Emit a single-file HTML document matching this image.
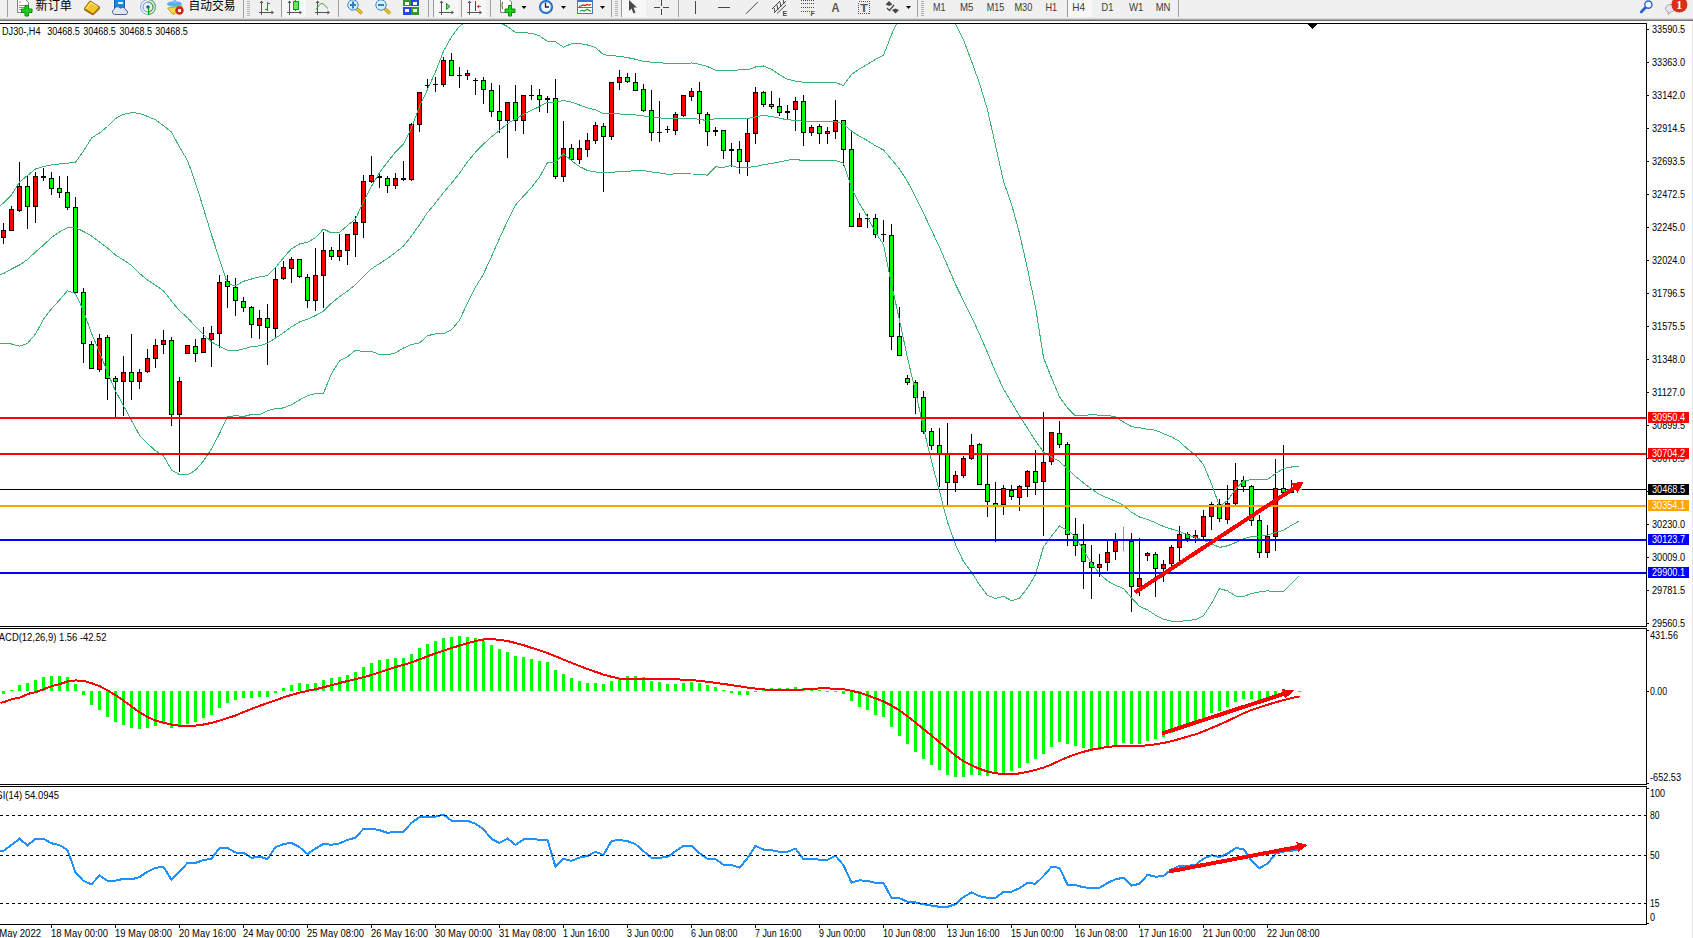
<!DOCTYPE html>
<html><head><meta charset="utf-8"><title>DJ30-,H4</title>
<style>html,body{margin:0;padding:0;background:#fff;overflow:hidden}svg{display:block}</style>
</head><body>
<svg width="1693" height="938" viewBox="0 0 1693 938" shape-rendering="crispEdges">
<defs>
<clipPath id="cm"><rect x="0" y="24" width="1646" height="602"/></clipPath>
<clipPath id="cmacd"><rect x="0" y="629" width="1646" height="155"/></clipPath>
<clipPath id="crsi"><rect x="0" y="787" width="1646" height="137"/></clipPath>
</defs>
<rect x="0" y="0" width="1693" height="938" fill="#fff"/>
<rect x="1692" y="21" width="1" height="917" fill="#e3e3e3"/>
<rect x="0" y="0" width="1693" height="19" fill="#f0f0f0"/>
<rect x="0" y="18" width="1693" height="1" fill="#dadada"/>
<rect x="0" y="19" width="1693" height="1" fill="#a9a9a9"/>
<rect x="0" y="20" width="1693" height="1" fill="#6e6e6e"/>
<rect x="7" y="0" width="1" height="17" fill="#a0a0a0"/>
<g shape-rendering="geometricPrecision">
<path d="M17.5,-1 H25 L28.5,2.5 V12.5 H17.5 Z" fill="#fff" stroke="#808080" stroke-width="1"/>
<rect x="19" y="1.5" width="2" height="1" fill="#909090"/><rect x="19" y="5" width="6" height="1" fill="#909090"/><rect x="19" y="7" width="6" height="1" fill="#909090"/><rect x="19" y="9" width="4" height="1" fill="#909090"/>
<path d="M25,5.5 h3.5 v3.5 h3.5 v3.5 h-3.5 v3.5 h-3.5 v-3.5 h-3.5 v-3.5 h3.5 z" fill="#19d119" stroke="#0a8a0a" stroke-width="1"/>
</g>
<text x="35.5" y="9.8" style="font-family:'Liberation Sans','Noto Sans CJK SC',sans-serif;font-size:12px" fill="#000" textLength="36.5" lengthAdjust="spacingAndGlyphs">新订单</text>
<g shape-rendering="geometricPrecision">
<path d="M84.5,8.5 L90,1 L99.5,7 L99.5,9 L93,15 L84.5,10 Z" fill="#c89020" stroke="#a06010" stroke-width="1"/>
<path d="M84.5,8.5 L90,1 L99.5,7 L93,14 Z" fill="#f0c828" stroke="#a86a10" stroke-width="1"/>
<path d="M86,9 L91,2.5 L97,6.5" fill="none" stroke="#fff2a0" stroke-width="1"/>
</g>
<g shape-rendering="geometricPrecision">
<rect x="114.5" y="-1" width="10" height="9" fill="#1a8ae8" stroke="#1060c0" stroke-width="1"/>
<rect x="118" y="2" width="5" height="2" fill="#e0f0ff"/>
<path d="M114.5,14.5 A2.6,2.6 0 0 1 114,9.6 A3.6,3.6 0 0 1 120.5,8.2 A3.2,3.2 0 0 1 125.8,10.2 A2.2,2.2 0 0 1 126,14.5 Z" fill="#e2e6ee" stroke="#4a64a0" stroke-width="1"/>
</g>
<g shape-rendering="geometricPrecision" fill="none">
<circle cx="148" cy="7" r="7.5" stroke="#8aa8e0" stroke-width="1"/>
<circle cx="148" cy="7" r="5" stroke="#6a98d8" stroke-width="1"/>
<path d="M148,-0.5 A7.5,7.5 0 0 1 148,14.5" stroke="#6ab86a" stroke-width="1.2"/>
<path d="M148,2 A5,5 0 0 1 148,12" stroke="#5aa85a" stroke-width="1.2"/>
<circle cx="148" cy="7" r="1.7" fill="#2050c0"/>
<rect x="148" y="7" width="1.2" height="8" fill="#10a010"/>
</g>
<g shape-rendering="geometricPrecision">
<path d="M167.5,8 L173,14.5 L181,10 L182,6 Z" fill="#f0d840" stroke="#c8a020" stroke-width="1"/>
<ellipse cx="174.5" cy="4" rx="7.5" ry="2.8" fill="#58b0e8"/>
<path d="M172,3 L175,-2 L177,3 Z" fill="#70c0f0"/>
<circle cx="179.5" cy="10.5" r="4.2" fill="#d02818"/>
<rect x="178" y="9" width="3" height="3" fill="#fff"/>
</g>
<text x="188.5" y="9.8" style="font-family:'Liberation Sans','Noto Sans CJK SC',sans-serif;font-size:12px" fill="#000" textLength="47" lengthAdjust="spacingAndGlyphs">自动交易</text>
<rect x="243" y="0" width="1" height="18" fill="#a0a0a0"/>
<rect x="247" y="1" width="3" height="1" fill="#b4b4b4"/>
<rect x="247" y="3" width="3" height="1" fill="#b4b4b4"/>
<rect x="247" y="5" width="3" height="1" fill="#b4b4b4"/>
<rect x="247" y="7" width="3" height="1" fill="#b4b4b4"/>
<rect x="247" y="9" width="3" height="1" fill="#b4b4b4"/>
<rect x="247" y="11" width="3" height="1" fill="#b4b4b4"/>
<rect x="247" y="13" width="3" height="1" fill="#b4b4b4"/>
<rect x="247" y="15" width="3" height="1" fill="#b4b4b4"/>
<rect x="261" y="1" width="1" height="14" fill="#555"/>
<rect x="259" y="12" width="14" height="1" fill="#555"/>
<polygon points="261.5,0.5 259.5,3 263.5,3" fill="#555" shape-rendering="geometricPrecision"/>
<polygon points="274,12.5 271.5,10.5 271.5,14.5" fill="#555" shape-rendering="geometricPrecision"/>
<rect x="267" y="2" width="1" height="9" fill="#10a010"/><rect x="265" y="9" width="2" height="1" fill="#10a010"/><rect x="268" y="3" width="2" height="1" fill="#10a010"/>
<rect x="282" y="0" width="24" height="17" fill="#f7f7f7"/>
<rect x="281" y="0" width="1" height="17" fill="#9a9a9a"/>
<rect x="289" y="1" width="1" height="14" fill="#555"/>
<rect x="287" y="12" width="14" height="1" fill="#555"/>
<polygon points="289.5,0.5 287.5,3 291.5,3" fill="#555" shape-rendering="geometricPrecision"/>
<polygon points="302,12.5 299.5,10.5 299.5,14.5" fill="#555" shape-rendering="geometricPrecision"/>
<rect x="295" y="0" width="1" height="11" fill="#10a010"/>
<rect x="293" y="1" width="5" height="8" fill="#60e860" stroke="#10a010" stroke-width="1"/>
<rect x="317" y="1" width="1" height="14" fill="#555"/>
<rect x="315" y="12" width="14" height="1" fill="#555"/>
<polygon points="317.5,0.5 315.5,3 319.5,3" fill="#555" shape-rendering="geometricPrecision"/>
<polygon points="330,12.5 327.5,10.5 327.5,14.5" fill="#555" shape-rendering="geometricPrecision"/>
<path d="M316,9.5 Q321,1 324,4.5 T328,8.5" fill="none" stroke="#30a030" stroke-width="1" shape-rendering="geometricPrecision"/>
<rect x="338" y="0" width="1" height="17" fill="#a0a0a0"/>
<g shape-rendering="geometricPrecision">
<line x1="356.5" y1="8.5" x2="362" y2="13.5" stroke="#b88a10" stroke-width="3.2"/>
<line x1="356.5" y1="8.5" x2="362" y2="13.5" stroke="#f0d040" stroke-width="1.6"/>
<circle cx="353" cy="5" r="5.2" fill="#d8f0fc" stroke="#3a88d0" stroke-width="1"/>
<rect x="350" y="4" width="6" height="2" fill="#3a80b8"/>
<rect x="352" y="1.5" width="2" height="7" fill="#3a80b8"/>
</g>
<g shape-rendering="geometricPrecision">
<line x1="384.5" y1="8.5" x2="390" y2="13.5" stroke="#b88a10" stroke-width="3.2"/>
<line x1="384.5" y1="8.5" x2="390" y2="13.5" stroke="#f0d040" stroke-width="1.6"/>
<circle cx="381" cy="5" r="5.2" fill="#d8f0fc" stroke="#3a88d0" stroke-width="1"/>
<rect x="378" y="4" width="6" height="2" fill="#3a80b8"/>
</g>
<rect x="403" y="-1" width="7.5" height="7" fill="#2a9a2a"/>
<rect x="404.5" y="2" width="4.5" height="3" fill="#fff"/>
<rect x="411" y="-1" width="7.5" height="7" fill="#2050d0"/>
<rect x="412.5" y="2" width="4.5" height="3" fill="#fff"/>
<rect x="403" y="7" width="7.5" height="7.5" fill="#2050d0"/>
<rect x="404.5" y="9" width="4.5" height="3" fill="#fff"/>
<rect x="411" y="7" width="7.5" height="7.5" fill="#2a9a2a"/>
<rect x="412.5" y="9" width="4.5" height="3" fill="#fff"/>
<rect x="428" y="0" width="1" height="17" fill="#a0a0a0"/>
<rect x="433" y="0" width="1" height="17" fill="#a0a0a0"/>
<rect x="434" y="0" width="24" height="17" fill="#f7f7f7"/>
<rect x="433" y="0" width="1" height="17" fill="#9a9a9a"/>
<rect x="441" y="1" width="1" height="14" fill="#555"/>
<rect x="439" y="12" width="14" height="1" fill="#555"/>
<polygon points="441.5,0.5 439.5,3 443.5,3" fill="#555" shape-rendering="geometricPrecision"/>
<polygon points="454,12.5 451.5,10.5 451.5,14.5" fill="#555" shape-rendering="geometricPrecision"/>
<polygon points="446.5,3.5 450,6.5 446.5,9.5" fill="#60e060" stroke="#10a010" stroke-width="1" shape-rendering="geometricPrecision"/>
<rect x="462" y="0" width="24" height="17" fill="#f7f7f7"/>
<rect x="461" y="0" width="1" height="17" fill="#9a9a9a"/>
<rect x="469" y="1" width="1" height="14" fill="#555"/>
<rect x="467" y="12" width="14" height="1" fill="#555"/>
<polygon points="469.5,0.5 467.5,3 471.5,3" fill="#555" shape-rendering="geometricPrecision"/>
<polygon points="482,12.5 479.5,10.5 479.5,14.5" fill="#555" shape-rendering="geometricPrecision"/>
<rect x="475" y="1" width="1" height="10" fill="#1060a0"/>
<polygon points="476.5,6.5 479.5,4.5 479,6 481,6 481,7 479,7 479.5,8.5" fill="#e04010" shape-rendering="geometricPrecision"/>
<rect x="490" y="0" width="1" height="17" fill="#a0a0a0"/>
<g shape-rendering="geometricPrecision">
<path d="M500.5,-1 H508.5 L511.5,2 V12.5 H500.5 Z" fill="#fff" stroke="#808080" stroke-width="1"/>
<path d="M502.5,2 Q501.5,5 502.5,9" fill="none" stroke="#705020" stroke-width="1"/>
<path d="M508.5,5.5 h3 v3.5 h3.5 v3.5 h-3.5 v3.5 h-3 v-3.5 h-3.5 v-3.5 h3.5 z" fill="#19d119" stroke="#0a8a0a" stroke-width="1"/>
</g>
<polygon points="521.5,6 526.5,6 524.0,9" fill="#000" shape-rendering="geometricPrecision"/>
<g shape-rendering="geometricPrecision">
<circle cx="546" cy="7" r="7" fill="#1858c0"/><circle cx="546" cy="7" r="5.9" fill="#3a90e8"/><circle cx="546" cy="7" r="4.8" fill="#f8f8f8"/>
<path d="M545.5,2.5 V7 H549" fill="none" stroke="#202020" stroke-width="1.3"/>
</g>
<polygon points="561,6 566,6 563.5,9" fill="#000" shape-rendering="geometricPrecision"/>
<rect x="577" y="-1" width="16" height="15" fill="#3a78c8"/>
<rect x="578" y="2" width="14" height="5" fill="#fff"/><rect x="578" y="8" width="14" height="5" fill="#fff"/>
<polyline points="579,6.5 581,6 583,5 585,5.6 587,4.4 589,5.2 591,4.4" fill="none" stroke="#b82000" stroke-width="1.2" shape-rendering="geometricPrecision"/>
<polyline points="580,11.2 582,10.3 584,11 586,10 587.5,9.2 589,10.2 591,11.3" fill="none" stroke="#10a020" stroke-width="1.2" shape-rendering="geometricPrecision"/>
<polygon points="600,6 605,6 602.5,9" fill="#000" shape-rendering="geometricPrecision"/>
<rect x="611" y="0" width="1" height="17" fill="#a0a0a0"/>
<rect x="615" y="1" width="3" height="1" fill="#b4b4b4"/>
<rect x="615" y="3" width="3" height="1" fill="#b4b4b4"/>
<rect x="615" y="5" width="3" height="1" fill="#b4b4b4"/>
<rect x="615" y="7" width="3" height="1" fill="#b4b4b4"/>
<rect x="615" y="9" width="3" height="1" fill="#b4b4b4"/>
<rect x="615" y="11" width="3" height="1" fill="#b4b4b4"/>
<rect x="615" y="13" width="3" height="1" fill="#b4b4b4"/>
<rect x="615" y="15" width="3" height="1" fill="#b4b4b4"/>
<rect x="621" y="0" width="1" height="17" fill="#a0a0a0"/>
<rect x="622" y="0" width="24" height="17" fill="#f7f7f7"/>
<rect x="621" y="0" width="1" height="17" fill="#9a9a9a"/>
<polygon points="629,0 629,11 631.5,8.5 633.5,13.5 635.5,12.5 633.5,7.5 637,7.5" fill="#484848" shape-rendering="geometricPrecision"/>
<rect x="654" y="7" width="6" height="1" fill="#484848"/><rect x="663" y="7" width="6" height="1" fill="#484848"/>
<rect x="661" y="0" width="1" height="6" fill="#484848"/><rect x="661" y="9" width="1" height="6" fill="#484848"/>
<rect x="678" y="0" width="1" height="17" fill="#a0a0a0"/>
<rect x="695" y="1" width="1" height="13" fill="#484848"/>
<rect x="718" y="7" width="12" height="1" fill="#484848"/>
<line x1="746" y1="13.8" x2="757.8" y2="2" stroke="#484848" stroke-width="1" shape-rendering="geometricPrecision"/>
<g shape-rendering="geometricPrecision" stroke="#484848" stroke-width="1" fill="none">
<line x1="772" y1="9" x2="780" y2="1"/><line x1="774" y1="13" x2="786" y2="1"/><line x1="777" y1="13.5" x2="786" y2="5"/>
<line x1="774" y1="8" x2="775" y2="12"/><line x1="777" y1="5" x2="778" y2="10"/><line x1="780" y1="2" x2="781" y2="7"/><line x1="783" y1="-1" x2="784" y2="4"/>
</g>
<text x="782.5" y="16" style="font-family:'Liberation Sans','Noto Sans CJK SC',sans-serif;font-size:7px;font-weight:bold" fill="#484848">E</text>
<line x1="801" y1="0.5" x2="814" y2="0.5" stroke="#484848" stroke-width="1" stroke-dasharray="1,1"/>
<line x1="801" y1="3.5" x2="814" y2="3.5" stroke="#484848" stroke-width="1" stroke-dasharray="1,1"/>
<line x1="801" y1="7.5" x2="814" y2="7.5" stroke="#484848" stroke-width="1" stroke-dasharray="1,1"/>
<line x1="801" y1="11.5" x2="810" y2="11.5" stroke="#484848" stroke-width="1" stroke-dasharray="1,1"/>
<text x="810.5" y="16" style="font-family:'Liberation Sans','Noto Sans CJK SC',sans-serif;font-size:7px;font-weight:bold" fill="#484848">F</text>
<text x="831.5" y="12" style="font-family:'Liberation Sans','Noto Sans CJK SC',sans-serif;font-size:12px;font-weight:bold" fill="#585858" textLength="8" lengthAdjust="spacingAndGlyphs">A</text>
<rect x="858.5" y="1.5" width="11" height="12" fill="none" stroke="#585858" stroke-width="1" stroke-dasharray="1,1"/>
<text x="860" y="12" style="font-family:'Liberation Sans','Noto Sans CJK SC',sans-serif;font-size:11px;font-weight:bold" fill="#585858" textLength="8" lengthAdjust="spacingAndGlyphs">T</text>
<g shape-rendering="geometricPrecision">
<polygon points="885.5,4.5 889,1 892.5,4.5 889,6" fill="#484848"/>
<polyline points="887,8 889.5,10.5 894,5" fill="none" stroke="#484848" stroke-width="1.3"/>
<polygon points="892,10 895.5,8.5 899,10 895.5,13.5" fill="#484848"/>
</g>
<polygon points="906,6 911,6 908.5,9" fill="#000" shape-rendering="geometricPrecision"/>
<rect x="917" y="0" width="1" height="17" fill="#a0a0a0"/>
<rect x="921" y="1" width="3" height="1" fill="#b4b4b4"/>
<rect x="921" y="3" width="3" height="1" fill="#b4b4b4"/>
<rect x="921" y="5" width="3" height="1" fill="#b4b4b4"/>
<rect x="921" y="7" width="3" height="1" fill="#b4b4b4"/>
<rect x="921" y="9" width="3" height="1" fill="#b4b4b4"/>
<rect x="921" y="11" width="3" height="1" fill="#b4b4b4"/>
<rect x="921" y="13" width="3" height="1" fill="#b4b4b4"/>
<rect x="921" y="15" width="3" height="1" fill="#b4b4b4"/>
<rect x="1068" y="0" width="24" height="17" fill="#f7f7f7"/>
<rect x="1067" y="0" width="1" height="17" fill="#9a9a9a"/>
<text x="933" y="11" style="font-family:'Liberation Sans','Noto Sans CJK SC',sans-serif;font-size:10.5px" fill="#3c3c3c" textLength="12.5" lengthAdjust="spacingAndGlyphs">M1</text>
<text x="960" y="11" style="font-family:'Liberation Sans','Noto Sans CJK SC',sans-serif;font-size:10.5px" fill="#3c3c3c" textLength="13.5" lengthAdjust="spacingAndGlyphs">M5</text>
<text x="986.7" y="11" style="font-family:'Liberation Sans','Noto Sans CJK SC',sans-serif;font-size:10.5px" fill="#3c3c3c" textLength="17.5" lengthAdjust="spacingAndGlyphs">M15</text>
<text x="1014.4" y="11" style="font-family:'Liberation Sans','Noto Sans CJK SC',sans-serif;font-size:10.5px" fill="#3c3c3c" textLength="18.0" lengthAdjust="spacingAndGlyphs">M30</text>
<text x="1045.5" y="11" style="font-family:'Liberation Sans','Noto Sans CJK SC',sans-serif;font-size:10.5px" fill="#3c3c3c" textLength="11.7" lengthAdjust="spacingAndGlyphs">H1</text>
<text x="1072.3" y="11" style="font-family:'Liberation Sans','Noto Sans CJK SC',sans-serif;font-size:10.5px" fill="#3c3c3c" textLength="12.7" lengthAdjust="spacingAndGlyphs">H4</text>
<text x="1101.5" y="11" style="font-family:'Liberation Sans','Noto Sans CJK SC',sans-serif;font-size:10.5px" fill="#3c3c3c" textLength="11.8" lengthAdjust="spacingAndGlyphs">D1</text>
<text x="1128.9" y="11" style="font-family:'Liberation Sans','Noto Sans CJK SC',sans-serif;font-size:10.5px" fill="#3c3c3c" textLength="14.4" lengthAdjust="spacingAndGlyphs">W1</text>
<text x="1155.7" y="11" style="font-family:'Liberation Sans','Noto Sans CJK SC',sans-serif;font-size:10.5px" fill="#3c3c3c" textLength="14.7" lengthAdjust="spacingAndGlyphs">MN</text>
<rect x="1178" y="0" width="1" height="17" fill="#a0a0a0"/>
<g shape-rendering="geometricPrecision">
<line x1="1645.5" y1="7.5" x2="1641.2" y2="12" stroke="#2a60d0" stroke-width="2.6" stroke-linecap="round"/>
<circle cx="1648.4" cy="4.6" r="3.6" fill="#fff" stroke="#2a60d0" stroke-width="1.4"/>
<path d="M1668,14.5 L1668.5,12 C1664,11 1664.5,5 1670,4.5 C1676,4 1677,11 1671,12 Z" fill="#e4e6ee" stroke="#a8a8a8" stroke-width="1"/>
<circle cx="1679.4" cy="4.6" r="8" fill="#d83018"/>
</g>
<text x="1676.2" y="9" style="font-family:'Liberation Serif',serif;font-size:12px;font-weight:bold" fill="#fff">1</text>
<g clip-path="url(#cm)">
<rect x="0" y="489" width="1646" height="1" fill="#000"/>
<rect x="3" y="223" width="1" height="21" fill="#000"/>
<rect x="1" y="230" width="5" height="8" fill="#000"/>
<rect x="2" y="231" width="3" height="6" fill="#ff0000"/>
<rect x="11" y="206" width="1" height="25" fill="#000"/>
<rect x="9" y="209" width="5" height="22" fill="#000"/>
<rect x="10" y="210" width="3" height="20" fill="#ff0000"/>
<rect x="19" y="162" width="1" height="50" fill="#000"/>
<rect x="17" y="186" width="5" height="25" fill="#000"/>
<rect x="18" y="187" width="3" height="23" fill="#ff0000"/>
<rect x="27" y="176" width="1" height="53" fill="#000"/>
<rect x="25" y="186" width="5" height="21" fill="#000"/>
<rect x="26" y="187" width="3" height="19" fill="#00ff00"/>
<rect x="35" y="172" width="1" height="51" fill="#000"/>
<rect x="33" y="176" width="5" height="31" fill="#000"/>
<rect x="34" y="177" width="3" height="29" fill="#ff0000"/>
<rect x="43" y="168" width="1" height="13" fill="#000"/>
<rect x="41" y="176" width="5" height="2" fill="#000"/>
<rect x="51" y="172" width="1" height="23" fill="#000"/>
<rect x="49" y="178" width="5" height="11" fill="#000"/>
<rect x="50" y="179" width="3" height="9" fill="#00ff00"/>
<rect x="59" y="176" width="1" height="22" fill="#000"/>
<rect x="57" y="188" width="5" height="5" fill="#000"/>
<rect x="58" y="189" width="3" height="3" fill="#00ff00"/>
<rect x="67" y="176" width="1" height="34" fill="#000"/>
<rect x="65" y="192" width="5" height="16" fill="#000"/>
<rect x="66" y="193" width="3" height="14" fill="#00ff00"/>
<rect x="75" y="197" width="1" height="96" fill="#000"/>
<rect x="73" y="207" width="5" height="86" fill="#000"/>
<rect x="74" y="208" width="3" height="84" fill="#00ff00"/>
<rect x="83" y="288" width="1" height="75" fill="#000"/>
<rect x="81" y="292" width="5" height="52" fill="#000"/>
<rect x="82" y="293" width="3" height="50" fill="#00ff00"/>
<rect x="91" y="341" width="1" height="27" fill="#000"/>
<rect x="89" y="344" width="5" height="25" fill="#000"/>
<rect x="90" y="345" width="3" height="23" fill="#00ff00"/>
<rect x="99" y="334" width="1" height="38" fill="#000"/>
<rect x="97" y="338" width="5" height="32" fill="#000"/>
<rect x="98" y="339" width="3" height="30" fill="#ff0000"/>
<rect x="107" y="335" width="1" height="65" fill="#000"/>
<rect x="105" y="337" width="5" height="42" fill="#000"/>
<rect x="106" y="338" width="3" height="40" fill="#00ff00"/>
<rect x="115" y="376" width="1" height="41" fill="#000"/>
<rect x="113" y="378" width="5" height="4" fill="#000"/>
<rect x="114" y="379" width="3" height="2" fill="#00ff00"/>
<rect x="123" y="356" width="1" height="60" fill="#000"/>
<rect x="121" y="372" width="5" height="10" fill="#000"/>
<rect x="122" y="373" width="3" height="8" fill="#ff0000"/>
<rect x="131" y="334" width="1" height="66" fill="#000"/>
<rect x="129" y="372" width="5" height="10" fill="#000"/>
<rect x="130" y="373" width="3" height="8" fill="#00ff00"/>
<rect x="139" y="369" width="1" height="20" fill="#000"/>
<rect x="137" y="372" width="5" height="10" fill="#000"/>
<rect x="138" y="373" width="3" height="8" fill="#ff0000"/>
<rect x="147" y="349" width="1" height="24" fill="#000"/>
<rect x="145" y="358" width="5" height="14" fill="#000"/>
<rect x="146" y="359" width="3" height="12" fill="#ff0000"/>
<rect x="155" y="339" width="1" height="29" fill="#000"/>
<rect x="153" y="345" width="5" height="14" fill="#000"/>
<rect x="154" y="346" width="3" height="12" fill="#ff0000"/>
<rect x="163" y="330" width="1" height="24" fill="#000"/>
<rect x="161" y="340" width="5" height="5" fill="#000"/>
<rect x="162" y="341" width="3" height="3" fill="#ff0000"/>
<rect x="171" y="337" width="1" height="89" fill="#000"/>
<rect x="169" y="340" width="5" height="75" fill="#000"/>
<rect x="170" y="341" width="3" height="73" fill="#00ff00"/>
<rect x="179" y="377" width="1" height="95" fill="#000"/>
<rect x="177" y="381" width="5" height="34" fill="#000"/>
<rect x="178" y="382" width="3" height="32" fill="#ff0000"/>
<rect x="187" y="345" width="1" height="9" fill="#000"/>
<rect x="185" y="345" width="5" height="9" fill="#000"/>
<rect x="186" y="346" width="3" height="7" fill="#ff0000"/>
<rect x="195" y="339" width="1" height="23" fill="#000"/>
<rect x="193" y="346" width="5" height="8" fill="#000"/>
<rect x="194" y="347" width="3" height="6" fill="#00ff00"/>
<rect x="203" y="327" width="1" height="26" fill="#000"/>
<rect x="201" y="338" width="5" height="15" fill="#000"/>
<rect x="202" y="339" width="3" height="13" fill="#ff0000"/>
<rect x="211" y="326" width="1" height="41" fill="#000"/>
<rect x="209" y="333" width="5" height="7" fill="#000"/>
<rect x="210" y="334" width="3" height="5" fill="#ff0000"/>
<rect x="219" y="275" width="1" height="73" fill="#000"/>
<rect x="217" y="282" width="5" height="52" fill="#000"/>
<rect x="218" y="283" width="3" height="50" fill="#ff0000"/>
<rect x="227" y="275" width="1" height="33" fill="#000"/>
<rect x="225" y="281" width="5" height="6" fill="#000"/>
<rect x="226" y="282" width="3" height="4" fill="#00ff00"/>
<rect x="235" y="278" width="1" height="38" fill="#000"/>
<rect x="233" y="287" width="5" height="14" fill="#000"/>
<rect x="234" y="288" width="3" height="12" fill="#00ff00"/>
<rect x="243" y="297" width="1" height="15" fill="#000"/>
<rect x="241" y="301" width="5" height="7" fill="#000"/>
<rect x="242" y="302" width="3" height="5" fill="#00ff00"/>
<rect x="251" y="306" width="1" height="32" fill="#000"/>
<rect x="249" y="307" width="5" height="18" fill="#000"/>
<rect x="250" y="308" width="3" height="16" fill="#00ff00"/>
<rect x="259" y="310" width="1" height="29" fill="#000"/>
<rect x="257" y="318" width="5" height="8" fill="#000"/>
<rect x="258" y="319" width="3" height="6" fill="#ff0000"/>
<rect x="267" y="304" width="1" height="61" fill="#000"/>
<rect x="265" y="318" width="5" height="10" fill="#000"/>
<rect x="266" y="319" width="3" height="8" fill="#00ff00"/>
<rect x="275" y="268" width="1" height="71" fill="#000"/>
<rect x="273" y="279" width="5" height="50" fill="#000"/>
<rect x="274" y="280" width="3" height="48" fill="#ff0000"/>
<rect x="283" y="261" width="1" height="19" fill="#000"/>
<rect x="281" y="267" width="5" height="12" fill="#000"/>
<rect x="282" y="268" width="3" height="10" fill="#ff0000"/>
<rect x="291" y="257" width="1" height="26" fill="#000"/>
<rect x="289" y="259" width="5" height="10" fill="#000"/>
<rect x="290" y="260" width="3" height="8" fill="#ff0000"/>
<rect x="299" y="259" width="1" height="19" fill="#000"/>
<rect x="297" y="259" width="5" height="18" fill="#000"/>
<rect x="298" y="260" width="3" height="16" fill="#00ff00"/>
<rect x="307" y="274" width="1" height="34" fill="#000"/>
<rect x="305" y="277" width="5" height="24" fill="#000"/>
<rect x="306" y="278" width="3" height="22" fill="#00ff00"/>
<rect x="315" y="248" width="1" height="63" fill="#000"/>
<rect x="313" y="275" width="5" height="26" fill="#000"/>
<rect x="314" y="276" width="3" height="24" fill="#ff0000"/>
<rect x="323" y="232" width="1" height="76" fill="#000"/>
<rect x="321" y="250" width="5" height="26" fill="#000"/>
<rect x="322" y="251" width="3" height="24" fill="#ff0000"/>
<rect x="331" y="247" width="1" height="13" fill="#000"/>
<rect x="329" y="250" width="5" height="7" fill="#000"/>
<rect x="330" y="251" width="3" height="5" fill="#00ff00"/>
<rect x="339" y="234" width="1" height="27" fill="#000"/>
<rect x="337" y="250" width="5" height="7" fill="#000"/>
<rect x="338" y="251" width="3" height="5" fill="#ff0000"/>
<rect x="347" y="234" width="1" height="31" fill="#000"/>
<rect x="345" y="234" width="5" height="17" fill="#000"/>
<rect x="346" y="235" width="3" height="15" fill="#ff0000"/>
<rect x="355" y="216" width="1" height="41" fill="#000"/>
<rect x="353" y="222" width="5" height="13" fill="#000"/>
<rect x="354" y="223" width="3" height="11" fill="#ff0000"/>
<rect x="363" y="175" width="1" height="63" fill="#000"/>
<rect x="361" y="181" width="5" height="42" fill="#000"/>
<rect x="362" y="182" width="3" height="40" fill="#ff0000"/>
<rect x="371" y="156" width="1" height="27" fill="#000"/>
<rect x="369" y="175" width="5" height="7" fill="#000"/>
<rect x="370" y="176" width="3" height="5" fill="#ff0000"/>
<rect x="379" y="174" width="1" height="14" fill="#000"/>
<rect x="377" y="176" width="5" height="2" fill="#000"/>
<rect x="387" y="176" width="1" height="17" fill="#000"/>
<rect x="385" y="178" width="5" height="8" fill="#000"/>
<rect x="386" y="179" width="3" height="6" fill="#00ff00"/>
<rect x="395" y="173" width="1" height="16" fill="#000"/>
<rect x="393" y="178" width="5" height="8" fill="#000"/>
<rect x="394" y="179" width="3" height="6" fill="#ff0000"/>
<rect x="403" y="161" width="1" height="20" fill="#000"/>
<rect x="401" y="178" width="5" height="2" fill="#000"/>
<rect x="411" y="123" width="1" height="58" fill="#000"/>
<rect x="409" y="124" width="5" height="56" fill="#000"/>
<rect x="410" y="125" width="3" height="54" fill="#ff0000"/>
<rect x="419" y="92" width="1" height="40" fill="#000"/>
<rect x="417" y="92" width="5" height="33" fill="#000"/>
<rect x="418" y="93" width="3" height="31" fill="#ff0000"/>
<rect x="427" y="79" width="1" height="9" fill="#000"/>
<rect x="425" y="85" width="5" height="1" fill="#000"/>
<rect x="435" y="77" width="1" height="15" fill="#000"/>
<rect x="433" y="84" width="5" height="1" fill="#000"/>
<rect x="443" y="57" width="1" height="30" fill="#000"/>
<rect x="441" y="60" width="5" height="25" fill="#000"/>
<rect x="442" y="61" width="3" height="23" fill="#ff0000"/>
<rect x="451" y="53" width="1" height="23" fill="#000"/>
<rect x="449" y="60" width="5" height="16" fill="#000"/>
<rect x="450" y="61" width="3" height="14" fill="#00ff00"/>
<rect x="459" y="67" width="1" height="21" fill="#000"/>
<rect x="457" y="75" width="5" height="1" fill="#000"/>
<rect x="467" y="70" width="1" height="10" fill="#000"/>
<rect x="465" y="73" width="5" height="3" fill="#000"/>
<rect x="466" y="74" width="3" height="1" fill="#ff0000"/>
<rect x="475" y="78" width="1" height="17" fill="#000"/>
<rect x="473" y="80" width="5" height="1" fill="#000"/>
<rect x="483" y="77" width="1" height="27" fill="#000"/>
<rect x="481" y="80" width="5" height="10" fill="#000"/>
<rect x="482" y="81" width="3" height="8" fill="#00ff00"/>
<rect x="491" y="83" width="1" height="34" fill="#000"/>
<rect x="489" y="90" width="5" height="22" fill="#000"/>
<rect x="490" y="91" width="3" height="20" fill="#00ff00"/>
<rect x="499" y="85" width="1" height="48" fill="#000"/>
<rect x="497" y="111" width="5" height="10" fill="#000"/>
<rect x="498" y="112" width="3" height="8" fill="#00ff00"/>
<rect x="507" y="102" width="1" height="56" fill="#000"/>
<rect x="505" y="102" width="5" height="19" fill="#000"/>
<rect x="506" y="103" width="3" height="17" fill="#ff0000"/>
<rect x="515" y="85" width="1" height="46" fill="#000"/>
<rect x="513" y="102" width="5" height="19" fill="#000"/>
<rect x="514" y="103" width="3" height="17" fill="#00ff00"/>
<rect x="523" y="95" width="1" height="39" fill="#000"/>
<rect x="521" y="95" width="5" height="26" fill="#000"/>
<rect x="522" y="96" width="3" height="24" fill="#ff0000"/>
<rect x="531" y="85" width="1" height="15" fill="#000"/>
<rect x="529" y="95" width="5" height="1" fill="#000"/>
<rect x="539" y="89" width="1" height="23" fill="#000"/>
<rect x="537" y="95" width="5" height="5" fill="#000"/>
<rect x="538" y="96" width="3" height="3" fill="#00ff00"/>
<rect x="547" y="96" width="1" height="17" fill="#000"/>
<rect x="545" y="98" width="5" height="2" fill="#000"/>
<rect x="555" y="79" width="1" height="100" fill="#000"/>
<rect x="553" y="98" width="5" height="79" fill="#000"/>
<rect x="554" y="99" width="3" height="77" fill="#00ff00"/>
<rect x="563" y="121" width="1" height="61" fill="#000"/>
<rect x="561" y="148" width="5" height="29" fill="#000"/>
<rect x="562" y="149" width="3" height="27" fill="#ff0000"/>
<rect x="571" y="144" width="1" height="15" fill="#000"/>
<rect x="569" y="148" width="5" height="12" fill="#000"/>
<rect x="570" y="149" width="3" height="10" fill="#00ff00"/>
<rect x="579" y="140" width="1" height="24" fill="#000"/>
<rect x="577" y="148" width="5" height="12" fill="#000"/>
<rect x="578" y="149" width="3" height="10" fill="#ff0000"/>
<rect x="587" y="133" width="1" height="24" fill="#000"/>
<rect x="585" y="140" width="5" height="10" fill="#000"/>
<rect x="586" y="141" width="3" height="8" fill="#ff0000"/>
<rect x="595" y="122" width="1" height="22" fill="#000"/>
<rect x="593" y="125" width="5" height="16" fill="#000"/>
<rect x="594" y="126" width="3" height="14" fill="#ff0000"/>
<rect x="603" y="123" width="1" height="69" fill="#000"/>
<rect x="601" y="126" width="5" height="11" fill="#000"/>
<rect x="602" y="127" width="3" height="9" fill="#00ff00"/>
<rect x="611" y="82" width="1" height="58" fill="#000"/>
<rect x="609" y="82" width="5" height="55" fill="#000"/>
<rect x="610" y="83" width="3" height="53" fill="#ff0000"/>
<rect x="619" y="70" width="1" height="20" fill="#000"/>
<rect x="617" y="77" width="5" height="6" fill="#000"/>
<rect x="618" y="78" width="3" height="4" fill="#ff0000"/>
<rect x="627" y="73" width="1" height="10" fill="#000"/>
<rect x="625" y="77" width="5" height="5" fill="#000"/>
<rect x="626" y="78" width="3" height="3" fill="#00ff00"/>
<rect x="635" y="73" width="1" height="18" fill="#000"/>
<rect x="633" y="82" width="5" height="9" fill="#000"/>
<rect x="634" y="83" width="3" height="7" fill="#00ff00"/>
<rect x="643" y="84" width="1" height="28" fill="#000"/>
<rect x="641" y="89" width="5" height="22" fill="#000"/>
<rect x="642" y="90" width="3" height="20" fill="#00ff00"/>
<rect x="651" y="90" width="1" height="51" fill="#000"/>
<rect x="649" y="110" width="5" height="23" fill="#000"/>
<rect x="650" y="111" width="3" height="21" fill="#00ff00"/>
<rect x="659" y="101" width="1" height="41" fill="#000"/>
<rect x="657" y="132" width="5" height="1" fill="#000"/>
<rect x="667" y="126" width="1" height="7" fill="#000"/>
<rect x="665" y="129" width="5" height="1" fill="#000"/>
<rect x="675" y="112" width="1" height="23" fill="#000"/>
<rect x="673" y="114" width="5" height="17" fill="#000"/>
<rect x="674" y="115" width="3" height="15" fill="#ff0000"/>
<rect x="683" y="95" width="1" height="22" fill="#000"/>
<rect x="681" y="95" width="5" height="21" fill="#000"/>
<rect x="682" y="96" width="3" height="19" fill="#ff0000"/>
<rect x="691" y="88" width="1" height="13" fill="#000"/>
<rect x="689" y="91" width="5" height="6" fill="#000"/>
<rect x="690" y="92" width="3" height="4" fill="#ff0000"/>
<rect x="699" y="82" width="1" height="42" fill="#000"/>
<rect x="697" y="91" width="5" height="23" fill="#000"/>
<rect x="698" y="92" width="3" height="21" fill="#00ff00"/>
<rect x="707" y="112" width="1" height="34" fill="#000"/>
<rect x="705" y="114" width="5" height="18" fill="#000"/>
<rect x="706" y="115" width="3" height="16" fill="#00ff00"/>
<rect x="715" y="127" width="1" height="9" fill="#000"/>
<rect x="713" y="130" width="5" height="2" fill="#000"/>
<rect x="723" y="130" width="1" height="29" fill="#000"/>
<rect x="721" y="130" width="5" height="21" fill="#000"/>
<rect x="722" y="131" width="3" height="19" fill="#00ff00"/>
<rect x="731" y="143" width="1" height="24" fill="#000"/>
<rect x="729" y="149" width="5" height="2" fill="#000"/>
<rect x="739" y="141" width="1" height="33" fill="#000"/>
<rect x="737" y="149" width="5" height="13" fill="#000"/>
<rect x="738" y="150" width="3" height="11" fill="#00ff00"/>
<rect x="747" y="119" width="1" height="57" fill="#000"/>
<rect x="745" y="133" width="5" height="29" fill="#000"/>
<rect x="746" y="134" width="3" height="27" fill="#ff0000"/>
<rect x="755" y="87" width="1" height="57" fill="#000"/>
<rect x="753" y="92" width="5" height="42" fill="#000"/>
<rect x="754" y="93" width="3" height="40" fill="#ff0000"/>
<rect x="763" y="91" width="1" height="16" fill="#000"/>
<rect x="761" y="92" width="5" height="13" fill="#000"/>
<rect x="762" y="93" width="3" height="11" fill="#00ff00"/>
<rect x="771" y="91" width="1" height="18" fill="#000"/>
<rect x="769" y="104" width="5" height="3" fill="#000"/>
<rect x="770" y="105" width="3" height="1" fill="#00ff00"/>
<rect x="779" y="98" width="1" height="18" fill="#000"/>
<rect x="777" y="106" width="5" height="7" fill="#000"/>
<rect x="778" y="107" width="3" height="5" fill="#00ff00"/>
<rect x="787" y="105" width="1" height="14" fill="#000"/>
<rect x="785" y="111" width="5" height="2" fill="#000"/>
<rect x="795" y="97" width="1" height="34" fill="#000"/>
<rect x="793" y="101" width="5" height="9" fill="#000"/>
<rect x="794" y="102" width="3" height="7" fill="#ff0000"/>
<rect x="803" y="95" width="1" height="51" fill="#000"/>
<rect x="801" y="101" width="5" height="32" fill="#000"/>
<rect x="802" y="102" width="3" height="30" fill="#00ff00"/>
<rect x="811" y="125" width="1" height="11" fill="#000"/>
<rect x="809" y="127" width="5" height="6" fill="#000"/>
<rect x="810" y="128" width="3" height="4" fill="#ff0000"/>
<rect x="819" y="124" width="1" height="20" fill="#000"/>
<rect x="817" y="126" width="5" height="8" fill="#000"/>
<rect x="818" y="127" width="3" height="6" fill="#00ff00"/>
<rect x="827" y="127" width="1" height="17" fill="#000"/>
<rect x="825" y="131" width="5" height="3" fill="#000"/>
<rect x="826" y="132" width="3" height="1" fill="#ff0000"/>
<rect x="835" y="100" width="1" height="39" fill="#000"/>
<rect x="833" y="120" width="5" height="12" fill="#000"/>
<rect x="834" y="121" width="3" height="10" fill="#ff0000"/>
<rect x="843" y="120" width="1" height="46" fill="#000"/>
<rect x="841" y="120" width="5" height="30" fill="#000"/>
<rect x="842" y="121" width="3" height="28" fill="#00ff00"/>
<rect x="851" y="132" width="1" height="94" fill="#000"/>
<rect x="849" y="149" width="5" height="78" fill="#000"/>
<rect x="850" y="150" width="3" height="76" fill="#00ff00"/>
<rect x="859" y="213" width="1" height="13" fill="#000"/>
<rect x="857" y="218" width="5" height="9" fill="#000"/>
<rect x="858" y="219" width="3" height="7" fill="#ff0000"/>
<rect x="867" y="214" width="1" height="14" fill="#000"/>
<rect x="865" y="218" width="5" height="1" fill="#000"/>
<rect x="875" y="214" width="1" height="24" fill="#000"/>
<rect x="873" y="218" width="5" height="17" fill="#000"/>
<rect x="874" y="219" width="3" height="15" fill="#00ff00"/>
<rect x="883" y="220" width="1" height="22" fill="#000"/>
<rect x="881" y="234" width="5" height="1" fill="#000"/>
<rect x="891" y="224" width="1" height="126" fill="#000"/>
<rect x="889" y="235" width="5" height="102" fill="#000"/>
<rect x="890" y="236" width="3" height="100" fill="#00ff00"/>
<rect x="899" y="307" width="1" height="49" fill="#000"/>
<rect x="897" y="336" width="5" height="20" fill="#000"/>
<rect x="898" y="337" width="3" height="18" fill="#00ff00"/>
<rect x="907" y="375" width="1" height="10" fill="#000"/>
<rect x="905" y="378" width="5" height="5" fill="#000"/>
<rect x="906" y="379" width="3" height="3" fill="#00ff00"/>
<rect x="915" y="380" width="1" height="34" fill="#000"/>
<rect x="913" y="382" width="5" height="16" fill="#000"/>
<rect x="914" y="383" width="3" height="14" fill="#00ff00"/>
<rect x="923" y="391" width="1" height="43" fill="#000"/>
<rect x="921" y="397" width="5" height="35" fill="#000"/>
<rect x="922" y="398" width="3" height="33" fill="#00ff00"/>
<rect x="931" y="428" width="1" height="22" fill="#000"/>
<rect x="929" y="431" width="5" height="15" fill="#000"/>
<rect x="930" y="432" width="3" height="13" fill="#00ff00"/>
<rect x="939" y="428" width="1" height="59" fill="#000"/>
<rect x="937" y="445" width="5" height="10" fill="#000"/>
<rect x="938" y="446" width="3" height="8" fill="#00ff00"/>
<rect x="947" y="423" width="1" height="82" fill="#000"/>
<rect x="945" y="454" width="5" height="29" fill="#000"/>
<rect x="946" y="455" width="3" height="27" fill="#00ff00"/>
<rect x="955" y="471" width="1" height="21" fill="#000"/>
<rect x="953" y="475" width="5" height="8" fill="#000"/>
<rect x="954" y="476" width="3" height="6" fill="#ff0000"/>
<rect x="963" y="456" width="1" height="22" fill="#000"/>
<rect x="961" y="458" width="5" height="18" fill="#000"/>
<rect x="962" y="459" width="3" height="16" fill="#ff0000"/>
<rect x="971" y="434" width="1" height="26" fill="#000"/>
<rect x="969" y="445" width="5" height="14" fill="#000"/>
<rect x="970" y="446" width="3" height="12" fill="#ff0000"/>
<rect x="979" y="443" width="1" height="41" fill="#000"/>
<rect x="977" y="444" width="5" height="41" fill="#000"/>
<rect x="978" y="445" width="3" height="39" fill="#00ff00"/>
<rect x="987" y="455" width="1" height="62" fill="#000"/>
<rect x="985" y="484" width="5" height="18" fill="#000"/>
<rect x="986" y="485" width="3" height="16" fill="#00ff00"/>
<rect x="995" y="482" width="1" height="60" fill="#000"/>
<rect x="993" y="503" width="5" height="3" fill="#000"/>
<rect x="994" y="504" width="3" height="1" fill="#00ff00"/>
<rect x="1003" y="485" width="1" height="30" fill="#000"/>
<rect x="1001" y="488" width="5" height="17" fill="#000"/>
<rect x="1002" y="489" width="3" height="15" fill="#ff0000"/>
<rect x="1011" y="485" width="1" height="15" fill="#000"/>
<rect x="1009" y="490" width="5" height="7" fill="#000"/>
<rect x="1010" y="491" width="3" height="5" fill="#00ff00"/>
<rect x="1019" y="485" width="1" height="26" fill="#000"/>
<rect x="1017" y="486" width="5" height="12" fill="#000"/>
<rect x="1018" y="487" width="3" height="10" fill="#ff0000"/>
<rect x="1027" y="470" width="1" height="27" fill="#000"/>
<rect x="1025" y="471" width="5" height="16" fill="#000"/>
<rect x="1026" y="472" width="3" height="14" fill="#ff0000"/>
<rect x="1035" y="450" width="1" height="45" fill="#000"/>
<rect x="1033" y="471" width="5" height="12" fill="#000"/>
<rect x="1034" y="472" width="3" height="10" fill="#00ff00"/>
<rect x="1043" y="412" width="1" height="124" fill="#000"/>
<rect x="1041" y="462" width="5" height="20" fill="#000"/>
<rect x="1042" y="463" width="3" height="18" fill="#ff0000"/>
<rect x="1051" y="432" width="1" height="33" fill="#000"/>
<rect x="1049" y="432" width="5" height="30" fill="#000"/>
<rect x="1050" y="433" width="3" height="28" fill="#ff0000"/>
<rect x="1059" y="421" width="1" height="27" fill="#000"/>
<rect x="1057" y="433" width="5" height="12" fill="#000"/>
<rect x="1058" y="434" width="3" height="10" fill="#00ff00"/>
<rect x="1067" y="442" width="1" height="104" fill="#000"/>
<rect x="1065" y="444" width="5" height="91" fill="#000"/>
<rect x="1066" y="445" width="3" height="89" fill="#00ff00"/>
<rect x="1075" y="518" width="1" height="38" fill="#000"/>
<rect x="1073" y="534" width="5" height="12" fill="#000"/>
<rect x="1074" y="535" width="3" height="10" fill="#00ff00"/>
<rect x="1083" y="524" width="1" height="65" fill="#000"/>
<rect x="1081" y="544" width="5" height="18" fill="#000"/>
<rect x="1082" y="545" width="3" height="16" fill="#00ff00"/>
<rect x="1091" y="545" width="1" height="54" fill="#000"/>
<rect x="1089" y="562" width="5" height="6" fill="#000"/>
<rect x="1090" y="563" width="3" height="4" fill="#00ff00"/>
<rect x="1099" y="554" width="1" height="23" fill="#000"/>
<rect x="1097" y="564" width="5" height="4" fill="#000"/>
<rect x="1098" y="565" width="3" height="2" fill="#ff0000"/>
<rect x="1107" y="541" width="1" height="30" fill="#000"/>
<rect x="1105" y="552" width="5" height="11" fill="#000"/>
<rect x="1106" y="553" width="3" height="9" fill="#ff0000"/>
<rect x="1115" y="533" width="1" height="27" fill="#000"/>
<rect x="1113" y="541" width="5" height="11" fill="#000"/>
<rect x="1114" y="542" width="3" height="9" fill="#ff0000"/>
<rect x="1123" y="527" width="1" height="24" fill="#00ff00"/>
<rect x="1121" y="539" width="5" height="1" fill="#00ff00"/>
<rect x="1131" y="533" width="1" height="79" fill="#000"/>
<rect x="1129" y="541" width="5" height="46" fill="#000"/>
<rect x="1130" y="542" width="3" height="44" fill="#00ff00"/>
<rect x="1139" y="538" width="1" height="58" fill="#000"/>
<rect x="1137" y="578" width="5" height="9" fill="#000"/>
<rect x="1138" y="579" width="3" height="7" fill="#ff0000"/>
<rect x="1147" y="552" width="1" height="9" fill="#000"/>
<rect x="1145" y="553" width="5" height="3" fill="#000"/>
<rect x="1146" y="554" width="3" height="1" fill="#ff0000"/>
<rect x="1155" y="552" width="1" height="45" fill="#000"/>
<rect x="1153" y="554" width="5" height="15" fill="#000"/>
<rect x="1154" y="555" width="3" height="13" fill="#00ff00"/>
<rect x="1163" y="560" width="1" height="22" fill="#000"/>
<rect x="1161" y="564" width="5" height="5" fill="#000"/>
<rect x="1162" y="565" width="3" height="3" fill="#ff0000"/>
<rect x="1171" y="545" width="1" height="21" fill="#000"/>
<rect x="1169" y="547" width="5" height="17" fill="#000"/>
<rect x="1170" y="548" width="3" height="15" fill="#ff0000"/>
<rect x="1179" y="526" width="1" height="35" fill="#000"/>
<rect x="1177" y="534" width="5" height="14" fill="#000"/>
<rect x="1178" y="535" width="3" height="12" fill="#ff0000"/>
<rect x="1187" y="532" width="1" height="10" fill="#000"/>
<rect x="1185" y="534" width="5" height="5" fill="#000"/>
<rect x="1186" y="535" width="3" height="3" fill="#00ff00"/>
<rect x="1195" y="530" width="1" height="13" fill="#000"/>
<rect x="1193" y="535" width="5" height="3" fill="#000"/>
<rect x="1194" y="536" width="3" height="1" fill="#ff0000"/>
<rect x="1203" y="510" width="1" height="29" fill="#000"/>
<rect x="1201" y="516" width="5" height="21" fill="#000"/>
<rect x="1202" y="517" width="3" height="19" fill="#ff0000"/>
<rect x="1211" y="502" width="1" height="28" fill="#000"/>
<rect x="1209" y="504" width="5" height="13" fill="#000"/>
<rect x="1210" y="505" width="3" height="11" fill="#ff0000"/>
<rect x="1219" y="499" width="1" height="23" fill="#000"/>
<rect x="1217" y="504" width="5" height="15" fill="#000"/>
<rect x="1218" y="505" width="3" height="13" fill="#00ff00"/>
<rect x="1227" y="485" width="1" height="39" fill="#000"/>
<rect x="1225" y="503" width="5" height="17" fill="#000"/>
<rect x="1226" y="504" width="3" height="15" fill="#ff0000"/>
<rect x="1235" y="463" width="1" height="42" fill="#000"/>
<rect x="1233" y="480" width="5" height="24" fill="#000"/>
<rect x="1234" y="481" width="3" height="22" fill="#ff0000"/>
<rect x="1243" y="476" width="1" height="16" fill="#000"/>
<rect x="1241" y="480" width="5" height="7" fill="#000"/>
<rect x="1242" y="481" width="3" height="5" fill="#00ff00"/>
<rect x="1251" y="485" width="1" height="41" fill="#000"/>
<rect x="1249" y="486" width="5" height="35" fill="#000"/>
<rect x="1250" y="487" width="3" height="33" fill="#00ff00"/>
<rect x="1259" y="515" width="1" height="43" fill="#000"/>
<rect x="1257" y="520" width="5" height="33" fill="#000"/>
<rect x="1258" y="521" width="3" height="31" fill="#00ff00"/>
<rect x="1267" y="525" width="1" height="33" fill="#000"/>
<rect x="1265" y="536" width="5" height="17" fill="#000"/>
<rect x="1266" y="537" width="3" height="15" fill="#ff0000"/>
<rect x="1275" y="459" width="1" height="92" fill="#000"/>
<rect x="1273" y="488" width="5" height="49" fill="#000"/>
<rect x="1274" y="489" width="3" height="47" fill="#ff0000"/>
<rect x="1283" y="445" width="1" height="47" fill="#000"/>
<rect x="1281" y="488" width="5" height="5" fill="#000"/>
<rect x="1282" y="489" width="3" height="3" fill="#00ff00"/>
<rect x="1291" y="480" width="1" height="12" fill="#000"/>
<rect x="1289" y="489" width="5" height="4" fill="#000"/>
<rect x="1290" y="490" width="3" height="2" fill="#ff0000"/>
<rect x="1297" y="489" width="5" height="1" fill="#00ff00"/>
<polyline points="-4.5,209.7 3.5,203.0 11.5,195.0 19.5,182.0 27.5,175.5 35.5,169.0 43.5,166.5 51.5,165.0 59.5,164.0 67.5,163.2 75.5,162.3 83.5,151.0 91.5,138.0 99.5,133.0 107.5,126.5 115.5,118.5 123.5,114.3 131.5,112.6 139.5,113.3 147.5,116.4 155.5,119.8 163.5,125.7 171.5,132.1 179.5,147.1 187.5,160.5 195.5,183.0 203.5,208.5 211.5,234.9 219.5,259.2 227.5,284.1 235.5,285.8 243.5,281.3 251.5,279.0 259.5,276.9 267.5,275.7 275.5,267.6 283.5,257.8 291.5,248.7 299.5,244.0 307.5,242.4 315.5,237.6 323.5,229.1 331.5,232.9 339.5,232.4 347.5,225.5 355.5,218.9 363.5,201.7 371.5,186.4 379.5,172.6 387.5,162.1 395.5,152.0 403.5,144.0 411.5,127.7 419.5,106.4 427.5,89.5 435.5,71.9 443.5,51.2 451.5,36.9 459.5,26.2 467.5,20.9 475.5,17.0 483.5,14.3 491.5,17.1 499.5,22.4 507.5,26.5 515.5,32.5 523.5,32.6 531.5,33.3 539.5,35.8 547.5,41.5 555.5,41.8 563.5,47.1 571.5,43.8 579.5,43.5 587.5,45.0 595.5,47.6 603.5,54.7 611.5,55.8 619.5,56.2 627.5,57.6 635.5,59.2 643.5,61.5 651.5,62.1 659.5,62.3 667.5,63.9 675.5,63.5 683.5,63.6 691.5,63.0 699.5,64.3 707.5,66.5 715.5,70.3 723.5,70.1 731.5,71.0 739.5,69.7 747.5,69.9 755.5,67.0 763.5,66.0 771.5,69.3 779.5,74.6 787.5,79.3 795.5,81.1 803.5,82.2 811.5,82.1 819.5,82.1 827.5,82.1 835.5,82.6 843.5,85.4 851.5,74.5 859.5,68.8 867.5,64.3 875.5,59.4 883.5,55.3 891.5,34.6 899.5,17.7 907.5,5.1 915.5,2.0 923.5,-1.8 931.5,-1.3 939.5,2.9 947.5,9.3 955.5,24.2 963.5,39.8 971.5,61.1 979.5,83.3 987.5,109.9 995.5,145.3 1003.5,181.5 1011.5,204.0 1019.5,233.4 1027.5,268.8 1035.5,307.0 1043.5,357.6 1051.5,377.8 1059.5,396.9 1067.5,407.8 1075.5,415.9 1083.5,415.5 1091.5,414.6 1099.5,415.2 1107.5,415.1 1115.5,417.0 1123.5,422.0 1131.5,426.6 1139.5,427.7 1147.5,429.2 1155.5,430.2 1163.5,433.7 1171.5,436.9 1179.5,441.4 1187.5,449.1 1195.5,455.1 1203.5,464.6 1211.5,483.8 1219.5,506.3 1227.5,500.7 1235.5,489.2 1243.5,480.9 1251.5,479.6 1259.5,479.9 1267.5,479.6 1275.5,473.4 1283.5,468.6 1291.5,467.0 1299.5,465.9" fill="none" stroke="#3cb371" stroke-width="1"/>
<polyline points="-4.5,276.2 3.5,273.5 11.5,269.0 19.5,265.0 27.5,259.5 35.5,252.0 43.5,245.0 51.5,237.5 59.5,232.0 67.5,227.6 75.5,227.6 83.5,231.5 91.5,236.0 99.5,242.0 107.5,248.0 115.5,255.0 123.5,260.0 131.5,265.5 139.5,273.5 147.5,280.0 155.5,285.3 163.5,290.8 171.5,301.1 179.5,310.8 187.5,317.7 195.5,326.6 203.5,334.6 211.5,341.9 219.5,346.4 227.5,350.3 235.5,350.8 243.5,348.9 251.5,346.7 259.5,345.8 267.5,343.2 275.5,338.1 283.5,332.9 291.5,326.8 299.5,322.0 307.5,319.1 315.5,315.6 323.5,311.1 331.5,303.2 339.5,296.7 347.5,291.1 355.5,284.6 363.5,276.7 371.5,268.8 379.5,263.6 387.5,258.6 395.5,252.4 403.5,246.0 411.5,236.0 419.5,224.7 427.5,212.6 435.5,202.9 443.5,192.5 451.5,183.3 459.5,173.3 467.5,161.9 475.5,152.1 483.5,144.1 491.5,136.8 499.5,130.4 507.5,123.8 515.5,118.7 523.5,114.4 531.5,110.4 539.5,106.5 547.5,102.1 555.5,102.0 563.5,100.5 571.5,102.2 579.5,105.0 587.5,107.8 595.5,109.8 603.5,113.6 611.5,113.9 619.5,114.0 627.5,114.5 635.5,115.0 643.5,116.0 651.5,117.1 659.5,117.7 667.5,119.0 675.5,118.7 683.5,118.7 691.5,118.5 699.5,119.2 707.5,120.8 715.5,118.6 723.5,118.7 731.5,118.2 739.5,118.9 747.5,118.5 755.5,116.9 763.5,115.3 771.5,116.5 779.5,118.2 787.5,119.8 795.5,120.3 803.5,121.4 811.5,121.1 819.5,121.2 827.5,121.2 835.5,121.6 843.5,124.3 851.5,131.0 859.5,136.3 867.5,140.6 875.5,145.8 883.5,150.0 891.5,159.3 899.5,169.0 907.5,181.5 915.5,196.8 923.5,213.1 931.5,230.1 939.5,247.2 947.5,265.7 955.5,284.4 963.5,300.7 971.5,316.6 979.5,334.1 987.5,352.7 995.5,371.9 1003.5,388.9 1011.5,402.4 1019.5,415.8 1027.5,428.4 1035.5,440.8 1043.5,452.2 1051.5,457.0 1059.5,461.4 1067.5,469.0 1075.5,476.4 1083.5,482.9 1091.5,489.0 1099.5,494.5 1107.5,497.9 1115.5,501.2 1123.5,505.2 1131.5,512.3 1139.5,517.0 1147.5,519.5 1155.5,522.7 1163.5,526.5 1171.5,529.0 1179.5,531.4 1187.5,534.8 1195.5,537.4 1203.5,540.1 1211.5,543.7 1219.5,547.4 1227.5,545.8 1235.5,542.6 1243.5,538.8 1251.5,536.5 1259.5,535.9 1267.5,535.2 1275.5,532.5 1283.5,530.2 1291.5,525.3 1299.5,520.9" fill="none" stroke="#3cb371" stroke-width="1"/>
<polyline points="-4.5,343.7 3.5,343.7 11.5,344.0 19.5,346.2 27.5,343.4 35.5,334.0 43.5,319.3 51.5,308.7 59.5,300.0 67.5,290.7 75.5,293.6 83.5,310.8 91.5,333.2 99.5,352.2 107.5,372.2 115.5,391.0 123.5,405.7 131.5,420.5 139.5,435.2 147.5,443.5 155.5,450.8 163.5,455.9 171.5,470.0 179.5,474.5 187.5,474.9 195.5,470.2 203.5,460.8 211.5,448.9 219.5,433.6 227.5,416.6 235.5,415.7 243.5,416.5 251.5,414.5 259.5,414.6 267.5,410.7 275.5,408.7 283.5,407.9 291.5,404.8 299.5,400.0 307.5,395.8 315.5,393.6 323.5,393.2 331.5,373.6 339.5,360.9 347.5,356.8 355.5,350.2 363.5,351.7 371.5,351.2 379.5,354.7 387.5,355.0 395.5,352.9 403.5,348.0 411.5,344.4 419.5,343.0 427.5,335.7 435.5,333.9 443.5,333.8 451.5,329.8 459.5,320.3 467.5,302.8 475.5,287.2 483.5,273.9 491.5,256.6 499.5,238.3 507.5,221.1 515.5,204.9 523.5,196.1 531.5,187.5 539.5,177.1 547.5,162.7 555.5,162.3 563.5,153.8 571.5,160.7 579.5,166.6 587.5,170.5 595.5,172.0 603.5,172.5 611.5,172.1 619.5,171.9 627.5,171.3 635.5,170.7 643.5,170.6 651.5,172.0 659.5,173.0 667.5,174.2 675.5,173.9 683.5,173.9 691.5,174.0 699.5,174.1 707.5,175.2 715.5,166.8 723.5,167.4 731.5,165.4 739.5,168.1 747.5,167.2 755.5,166.8 763.5,164.6 771.5,163.6 779.5,161.9 787.5,160.2 795.5,159.4 803.5,160.6 811.5,160.1 819.5,160.2 827.5,160.4 835.5,160.5 843.5,163.1 851.5,187.6 859.5,203.8 867.5,217.0 875.5,232.2 883.5,244.6 891.5,284.1 899.5,320.3 907.5,357.9 915.5,391.5 923.5,428.0 931.5,461.4 939.5,491.4 947.5,522.1 955.5,544.6 963.5,561.6 971.5,572.0 979.5,585.0 987.5,595.4 995.5,598.5 1003.5,596.3 1011.5,600.7 1019.5,598.1 1027.5,588.0 1035.5,574.6 1043.5,546.9 1051.5,536.2 1059.5,526.0 1067.5,530.3 1075.5,537.0 1083.5,550.3 1091.5,563.4 1099.5,573.8 1107.5,580.8 1115.5,585.4 1123.5,588.5 1131.5,597.9 1139.5,606.3 1147.5,609.9 1155.5,615.2 1163.5,619.2 1171.5,621.1 1179.5,621.4 1187.5,620.4 1195.5,619.7 1203.5,615.6 1211.5,603.6 1219.5,588.5 1227.5,590.9 1235.5,596.0 1243.5,596.7 1251.5,593.4 1259.5,592.0 1267.5,590.8 1275.5,591.7 1283.5,591.8 1291.5,583.7 1299.5,575.8" fill="none" stroke="#3cb371" stroke-width="1"/>
<rect x="0" y="417" width="1646" height="2" fill="#ff0000"/>
<rect x="0" y="453" width="1646" height="2" fill="#ff0000"/>
<rect x="0" y="505" width="1646" height="2" fill="#ffa500"/>
<rect x="0" y="539" width="1646" height="2" fill="#0000ff"/>
<rect x="0" y="572" width="1646" height="2" fill="#0000ff"/>
<line x1="1135" y1="592.5" x2="1296.0" y2="486.9" stroke="#ff0000" stroke-width="4"/><polygon points="1303.5,482.0 1297.6,493.0 1291.0,483.0" fill="#ff0000"/>
</g>
<text x="2" y="35" style="font-family:'Liberation Sans','Noto Sans CJK SC',sans-serif;font-size:10px" fill="#000" textLength="38.5" lengthAdjust="spacingAndGlyphs">DJ30-,H4</text>
<text x="47.3" y="35" style="font-family:'Liberation Sans','Noto Sans CJK SC',sans-serif;font-size:10px" fill="#000" textLength="32.5" lengthAdjust="spacingAndGlyphs">30468.5</text>
<text x="83.2" y="35" style="font-family:'Liberation Sans','Noto Sans CJK SC',sans-serif;font-size:10px" fill="#000" textLength="32.5" lengthAdjust="spacingAndGlyphs">30468.5</text>
<text x="119.4" y="35" style="font-family:'Liberation Sans','Noto Sans CJK SC',sans-serif;font-size:10px" fill="#000" textLength="32.5" lengthAdjust="spacingAndGlyphs">30468.5</text>
<text x="155.3" y="35" style="font-family:'Liberation Sans','Noto Sans CJK SC',sans-serif;font-size:10px" fill="#000" textLength="32.5" lengthAdjust="spacingAndGlyphs">30468.5</text>
<polygon points="1307,23.5 1318,23.5 1312.5,29.5" fill="#000"/>
<g clip-path="url(#cmacd)">
<rect x="2" y="691" width="3" height="3" fill="#00ff00"/>
<rect x="10" y="690" width="3" height="1" fill="#00ff00"/>
<rect x="18" y="685" width="3" height="6" fill="#00ff00"/>
<rect x="26" y="683" width="3" height="8" fill="#00ff00"/>
<rect x="34" y="680" width="3" height="11" fill="#00ff00"/>
<rect x="42" y="677" width="3" height="14" fill="#00ff00"/>
<rect x="50" y="676" width="3" height="15" fill="#00ff00"/>
<rect x="58" y="676" width="3" height="15" fill="#00ff00"/>
<rect x="66" y="677" width="3" height="14" fill="#00ff00"/>
<rect x="74" y="684" width="3" height="7" fill="#00ff00"/>
<rect x="82" y="691" width="3" height="4" fill="#00ff00"/>
<rect x="90" y="691" width="3" height="14" fill="#00ff00"/>
<rect x="98" y="691" width="3" height="19" fill="#00ff00"/>
<rect x="106" y="691" width="3" height="26" fill="#00ff00"/>
<rect x="114" y="691" width="3" height="31" fill="#00ff00"/>
<rect x="122" y="691" width="3" height="34" fill="#00ff00"/>
<rect x="130" y="691" width="3" height="37" fill="#00ff00"/>
<rect x="138" y="691" width="3" height="38" fill="#00ff00"/>
<rect x="146" y="691" width="3" height="37" fill="#00ff00"/>
<rect x="154" y="691" width="3" height="35" fill="#00ff00"/>
<rect x="162" y="691" width="3" height="33" fill="#00ff00"/>
<rect x="170" y="691" width="3" height="37" fill="#00ff00"/>
<rect x="178" y="691" width="3" height="36" fill="#00ff00"/>
<rect x="186" y="691" width="3" height="33" fill="#00ff00"/>
<rect x="194" y="691" width="3" height="31" fill="#00ff00"/>
<rect x="202" y="691" width="3" height="27" fill="#00ff00"/>
<rect x="210" y="691" width="3" height="24" fill="#00ff00"/>
<rect x="218" y="691" width="3" height="17" fill="#00ff00"/>
<rect x="226" y="691" width="3" height="12" fill="#00ff00"/>
<rect x="234" y="691" width="3" height="9" fill="#00ff00"/>
<rect x="242" y="691" width="3" height="7" fill="#00ff00"/>
<rect x="250" y="691" width="3" height="7" fill="#00ff00"/>
<rect x="258" y="691" width="3" height="6" fill="#00ff00"/>
<rect x="266" y="691" width="3" height="6" fill="#00ff00"/>
<rect x="274" y="691" width="3" height="2" fill="#00ff00"/>
<rect x="282" y="688" width="3" height="3" fill="#00ff00"/>
<rect x="290" y="685" width="3" height="6" fill="#00ff00"/>
<rect x="298" y="683" width="3" height="8" fill="#00ff00"/>
<rect x="306" y="684" width="3" height="7" fill="#00ff00"/>
<rect x="314" y="683" width="3" height="8" fill="#00ff00"/>
<rect x="322" y="680" width="3" height="11" fill="#00ff00"/>
<rect x="330" y="678" width="3" height="13" fill="#00ff00"/>
<rect x="338" y="677" width="3" height="14" fill="#00ff00"/>
<rect x="346" y="675" width="3" height="16" fill="#00ff00"/>
<rect x="354" y="672" width="3" height="19" fill="#00ff00"/>
<rect x="362" y="667" width="3" height="24" fill="#00ff00"/>
<rect x="370" y="663" width="3" height="28" fill="#00ff00"/>
<rect x="378" y="660" width="3" height="31" fill="#00ff00"/>
<rect x="386" y="659" width="3" height="32" fill="#00ff00"/>
<rect x="394" y="658" width="3" height="33" fill="#00ff00"/>
<rect x="402" y="658" width="3" height="33" fill="#00ff00"/>
<rect x="410" y="654" width="3" height="37" fill="#00ff00"/>
<rect x="418" y="648" width="3" height="43" fill="#00ff00"/>
<rect x="426" y="644" width="3" height="47" fill="#00ff00"/>
<rect x="434" y="641" width="3" height="50" fill="#00ff00"/>
<rect x="442" y="638" width="3" height="53" fill="#00ff00"/>
<rect x="450" y="637" width="3" height="54" fill="#00ff00"/>
<rect x="458" y="636" width="3" height="55" fill="#00ff00"/>
<rect x="466" y="637" width="3" height="54" fill="#00ff00"/>
<rect x="474" y="638" width="3" height="53" fill="#00ff00"/>
<rect x="482" y="641" width="3" height="50" fill="#00ff00"/>
<rect x="490" y="645" width="3" height="46" fill="#00ff00"/>
<rect x="498" y="649" width="3" height="42" fill="#00ff00"/>
<rect x="506" y="652" width="3" height="39" fill="#00ff00"/>
<rect x="514" y="656" width="3" height="35" fill="#00ff00"/>
<rect x="522" y="657" width="3" height="34" fill="#00ff00"/>
<rect x="530" y="659" width="3" height="32" fill="#00ff00"/>
<rect x="538" y="661" width="3" height="30" fill="#00ff00"/>
<rect x="546" y="662" width="3" height="29" fill="#00ff00"/>
<rect x="554" y="670" width="3" height="21" fill="#00ff00"/>
<rect x="562" y="674" width="3" height="17" fill="#00ff00"/>
<rect x="570" y="678" width="3" height="13" fill="#00ff00"/>
<rect x="578" y="681" width="3" height="10" fill="#00ff00"/>
<rect x="586" y="683" width="3" height="8" fill="#00ff00"/>
<rect x="594" y="683" width="3" height="8" fill="#00ff00"/>
<rect x="602" y="684" width="3" height="7" fill="#00ff00"/>
<rect x="610" y="681" width="3" height="10" fill="#00ff00"/>
<rect x="618" y="678" width="3" height="13" fill="#00ff00"/>
<rect x="626" y="676" width="3" height="15" fill="#00ff00"/>
<rect x="634" y="676" width="3" height="15" fill="#00ff00"/>
<rect x="642" y="677" width="3" height="14" fill="#00ff00"/>
<rect x="650" y="681" width="3" height="10" fill="#00ff00"/>
<rect x="658" y="682" width="3" height="9" fill="#00ff00"/>
<rect x="666" y="684" width="3" height="7" fill="#00ff00"/>
<rect x="674" y="684" width="3" height="7" fill="#00ff00"/>
<rect x="682" y="683" width="3" height="8" fill="#00ff00"/>
<rect x="690" y="682" width="3" height="9" fill="#00ff00"/>
<rect x="698" y="683" width="3" height="8" fill="#00ff00"/>
<rect x="706" y="685" width="3" height="6" fill="#00ff00"/>
<rect x="714" y="687" width="3" height="4" fill="#00ff00"/>
<rect x="722" y="690" width="3" height="1" fill="#00ff00"/>
<rect x="730" y="691" width="3" height="2" fill="#00ff00"/>
<rect x="738" y="691" width="3" height="4" fill="#00ff00"/>
<rect x="746" y="691" width="3" height="4" fill="#00ff00"/>
<rect x="754" y="691" width="3" height="1" fill="#00ff00"/>
<rect x="762" y="690" width="3" height="1" fill="#00ff00"/>
<rect x="770" y="688" width="3" height="3" fill="#00ff00"/>
<rect x="778" y="688" width="3" height="3" fill="#00ff00"/>
<rect x="786" y="688" width="3" height="3" fill="#00ff00"/>
<rect x="794" y="687" width="3" height="4" fill="#00ff00"/>
<rect x="802" y="688" width="3" height="3" fill="#00ff00"/>
<rect x="810" y="690" width="3" height="1" fill="#00ff00"/>
<rect x="818" y="690" width="3" height="1" fill="#00ff00"/>
<rect x="826" y="691" width="3" height="1" fill="#00ff00"/>
<rect x="834" y="691" width="3" height="1" fill="#00ff00"/>
<rect x="842" y="691" width="3" height="3" fill="#00ff00"/>
<rect x="850" y="691" width="3" height="10" fill="#00ff00"/>
<rect x="858" y="691" width="3" height="16" fill="#00ff00"/>
<rect x="866" y="691" width="3" height="19" fill="#00ff00"/>
<rect x="874" y="691" width="3" height="24" fill="#00ff00"/>
<rect x="882" y="691" width="3" height="26" fill="#00ff00"/>
<rect x="890" y="691" width="3" height="36" fill="#00ff00"/>
<rect x="898" y="691" width="3" height="45" fill="#00ff00"/>
<rect x="906" y="691" width="3" height="53" fill="#00ff00"/>
<rect x="914" y="691" width="3" height="61" fill="#00ff00"/>
<rect x="922" y="691" width="3" height="68" fill="#00ff00"/>
<rect x="930" y="691" width="3" height="74" fill="#00ff00"/>
<rect x="938" y="691" width="3" height="79" fill="#00ff00"/>
<rect x="946" y="691" width="3" height="84" fill="#00ff00"/>
<rect x="954" y="691" width="3" height="86" fill="#00ff00"/>
<rect x="962" y="691" width="3" height="86" fill="#00ff00"/>
<rect x="970" y="691" width="3" height="84" fill="#00ff00"/>
<rect x="978" y="691" width="3" height="84" fill="#00ff00"/>
<rect x="986" y="691" width="3" height="85" fill="#00ff00"/>
<rect x="994" y="691" width="3" height="83" fill="#00ff00"/>
<rect x="1002" y="691" width="3" height="82" fill="#00ff00"/>
<rect x="1010" y="691" width="3" height="80" fill="#00ff00"/>
<rect x="1018" y="691" width="3" height="77" fill="#00ff00"/>
<rect x="1026" y="691" width="3" height="72" fill="#00ff00"/>
<rect x="1034" y="691" width="3" height="68" fill="#00ff00"/>
<rect x="1042" y="691" width="3" height="63" fill="#00ff00"/>
<rect x="1050" y="691" width="3" height="56" fill="#00ff00"/>
<rect x="1058" y="691" width="3" height="51" fill="#00ff00"/>
<rect x="1066" y="691" width="3" height="53" fill="#00ff00"/>
<rect x="1074" y="691" width="3" height="55" fill="#00ff00"/>
<rect x="1082" y="691" width="3" height="57" fill="#00ff00"/>
<rect x="1090" y="691" width="3" height="58" fill="#00ff00"/>
<rect x="1098" y="691" width="3" height="59" fill="#00ff00"/>
<rect x="1106" y="691" width="3" height="57" fill="#00ff00"/>
<rect x="1114" y="691" width="3" height="55" fill="#00ff00"/>
<rect x="1122" y="691" width="3" height="52" fill="#00ff00"/>
<rect x="1130" y="691" width="3" height="53" fill="#00ff00"/>
<rect x="1138" y="691" width="3" height="53" fill="#00ff00"/>
<rect x="1146" y="691" width="3" height="50" fill="#00ff00"/>
<rect x="1154" y="691" width="3" height="48" fill="#00ff00"/>
<rect x="1162" y="691" width="3" height="46" fill="#00ff00"/>
<rect x="1170" y="691" width="3" height="42" fill="#00ff00"/>
<rect x="1178" y="691" width="3" height="38" fill="#00ff00"/>
<rect x="1186" y="691" width="3" height="33" fill="#00ff00"/>
<rect x="1194" y="691" width="3" height="31" fill="#00ff00"/>
<rect x="1202" y="691" width="3" height="27" fill="#00ff00"/>
<rect x="1210" y="691" width="3" height="22" fill="#00ff00"/>
<rect x="1218" y="691" width="3" height="20" fill="#00ff00"/>
<rect x="1226" y="691" width="3" height="16" fill="#00ff00"/>
<rect x="1234" y="691" width="3" height="11" fill="#00ff00"/>
<rect x="1242" y="691" width="3" height="8" fill="#00ff00"/>
<rect x="1250" y="691" width="3" height="8" fill="#00ff00"/>
<rect x="1258" y="691" width="3" height="10" fill="#00ff00"/>
<rect x="1266" y="691" width="3" height="7" fill="#00ff00"/>
<rect x="1274" y="691" width="3" height="5" fill="#00ff00"/>
<rect x="1282" y="691" width="3" height="3" fill="#00ff00"/>
<rect x="1290" y="691" width="3" height="1" fill="#00ff00"/>
<rect x="1298" y="691" width="3" height="1" fill="#00ff00"/>
<polyline points="0.5,702.9 4.8,701.8 12.2,699.0 20.8,697.4 28.2,693.8 35.7,692.2 44.2,689.0 52.7,685.8 60.2,683.9 67.5,681.5 75.5,680.4 83.5,680.9 91.5,683.1 99.5,686.1 107.5,690.2 115.5,695.2 123.5,700.6 131.5,706.4 139.5,712.2 147.5,717.1 155.5,720.5 163.5,722.6 171.5,724.6 179.5,725.7 187.5,725.9 195.5,725.6 203.5,724.5 211.5,722.9 219.5,720.7 227.5,718.1 235.5,715.5 243.5,712.1 251.5,708.9 259.5,705.9 267.5,703.1 275.5,700.4 283.5,697.4 291.5,694.9 299.5,692.7 307.5,690.9 315.5,689.2 323.5,687.3 331.5,685.2 339.5,683.0 347.5,681.0 355.5,679.2 363.5,677.2 371.5,674.9 379.5,672.3 387.5,669.6 395.5,667.1 403.5,664.9 411.5,662.4 419.5,659.4 427.5,656.3 435.5,653.4 443.5,650.6 451.5,648.1 459.5,645.5 467.5,643.2 475.5,641.0 483.5,639.5 491.5,639.2 499.5,639.8 507.5,641.0 515.5,643.0 523.5,645.2 531.5,647.8 539.5,650.4 547.5,653.1 555.5,656.3 563.5,659.6 571.5,662.8 579.5,666.0 587.5,669.0 595.5,671.8 603.5,674.6 611.5,676.8 619.5,678.6 627.5,679.3 635.5,679.5 643.5,679.4 651.5,679.4 659.5,679.3 667.5,679.4 675.5,679.4 683.5,679.6 691.5,680.1 699.5,680.8 707.5,681.8 715.5,682.9 723.5,683.9 731.5,685.1 739.5,686.3 747.5,687.6 755.5,688.6 763.5,689.4 771.5,689.9 779.5,690.3 787.5,690.4 795.5,690.1 803.5,689.5 811.5,688.9 819.5,688.4 827.5,688.4 835.5,688.7 843.5,689.3 851.5,690.7 859.5,692.8 867.5,695.4 875.5,698.4 883.5,701.4 891.5,705.5 899.5,710.4 907.5,716.2 915.5,722.6 923.5,729.1 931.5,735.5 939.5,742.2 947.5,748.9 955.5,755.6 963.5,761.1 971.5,765.4 979.5,768.9 987.5,771.5 995.5,773.2 1003.5,774.1 1011.5,774.2 1019.5,773.4 1027.5,771.9 1035.5,769.9 1043.5,767.6 1051.5,764.5 1059.5,760.7 1067.5,757.3 1075.5,754.3 1083.5,751.8 1091.5,749.7 1099.5,748.2 1107.5,747.0 1115.5,746.1 1123.5,745.6 1131.5,745.9 1139.5,745.9 1147.5,745.3 1155.5,744.3 1163.5,743.0 1171.5,741.1 1179.5,739.0 1187.5,736.6 1195.5,734.3 1203.5,731.4 1211.5,727.9 1219.5,724.6 1227.5,721.0 1235.5,717.2 1243.5,713.4 1251.5,710.0 1259.5,707.4 1267.5,704.8 1275.5,702.3 1283.5,700.2 1291.5,698.1 1299.5,696.4" fill="none" stroke="#ff0000" stroke-width="2"/>
<line x1="1162" y1="733.5" x2="1285.4" y2="693.3" stroke="#ff0000" stroke-width="4"/><polygon points="1294.0,690.5 1285.1,698.7 1282.0,689.2" fill="#ff0000"/>
</g>
<text x="-9" y="641" style="font-family:'Liberation Sans','Noto Sans CJK SC',sans-serif;font-size:10px" fill="#000" textLength="115.5" lengthAdjust="spacingAndGlyphs">MACD(12,26,9) 1.56 -42.52</text>
<g clip-path="url(#crsi)">
<polyline points="-4.5,851.0 3.5,851.0 11.5,845.0 19.5,838.7 27.5,845.5 35.5,838.7 43.5,838.7 51.5,843.3 59.5,845.1 67.5,850.0 75.5,872.5 83.5,881.0 91.5,884.3 99.5,875.6 107.5,880.7 115.5,880.7 123.5,878.8 131.5,879.5 139.5,877.0 147.5,871.7 155.5,867.8 163.5,866.8 171.5,880.0 179.5,871.6 187.5,862.9 195.5,862.9 203.5,860.1 211.5,858.9 219.5,848.0 227.5,848.0 235.5,852.5 243.5,852.7 251.5,857.8 259.5,856.6 267.5,859.1 275.5,847.1 283.5,844.1 291.5,842.9 299.5,847.1 307.5,854.0 315.5,848.6 323.5,843.8 331.5,844.8 339.5,843.5 347.5,839.9 355.5,837.7 363.5,828.8 371.5,828.8 379.5,830.1 387.5,832.9 395.5,831.7 403.5,831.7 411.5,822.8 419.5,817.3 427.5,816.6 435.5,816.6 443.5,814.7 451.5,820.7 459.5,820.7 467.5,820.7 475.5,823.7 483.5,829.2 491.5,839.0 499.5,842.9 507.5,838.6 515.5,844.8 523.5,839.4 531.5,838.6 539.5,839.9 547.5,839.9 555.5,866.8 563.5,858.9 571.5,860.8 579.5,857.6 587.5,856.0 595.5,851.8 603.5,855.0 611.5,840.9 619.5,839.9 627.5,841.2 635.5,844.1 643.5,851.2 651.5,857.8 659.5,857.8 667.5,856.9 675.5,851.2 683.5,845.8 691.5,845.8 699.5,853.1 707.5,858.9 715.5,859.1 723.5,864.8 731.5,864.9 739.5,867.8 747.5,858.2 755.5,845.8 763.5,849.6 771.5,850.2 779.5,851.8 787.5,851.8 795.5,848.6 803.5,859.5 811.5,858.9 819.5,859.7 827.5,859.7 835.5,855.7 843.5,865.3 851.5,882.5 859.5,880.3 867.5,881.0 875.5,882.9 883.5,882.9 891.5,897.9 899.5,898.3 907.5,901.7 915.5,902.4 923.5,904.3 931.5,905.6 939.5,906.8 947.5,906.8 955.5,904.3 963.5,897.0 971.5,892.4 979.5,896.2 987.5,897.9 995.5,897.9 1003.5,891.9 1011.5,891.7 1019.5,888.3 1027.5,882.9 1035.5,883.8 1043.5,876.1 1051.5,866.8 1059.5,867.8 1067.5,884.7 1075.5,885.1 1083.5,887.3 1091.5,887.9 1099.5,887.9 1107.5,882.9 1115.5,879.3 1123.5,877.7 1131.5,885.7 1139.5,883.8 1147.5,874.8 1155.5,876.7 1163.5,876.0 1171.5,869.6 1179.5,865.8 1187.5,865.8 1195.5,864.8 1203.5,858.7 1211.5,855.2 1219.5,857.2 1227.5,853.7 1235.5,848.3 1243.5,848.8 1251.5,860.7 1259.5,868.1 1267.5,863.7 1275.5,853.7 1283.5,851.5 1291.5,850.8 1299.5,849.6" fill="none" stroke="#1e90ff" stroke-width="2"/>
<line x1="0" y1="815.5" x2="1646" y2="815.5" stroke="#000" stroke-width="1" stroke-dasharray="3,3"/>
<line x1="0" y1="855.5" x2="1646" y2="855.5" stroke="#000" stroke-width="1" stroke-dasharray="3,3"/>
<line x1="0" y1="903.5" x2="1646" y2="903.5" stroke="#000" stroke-width="1" stroke-dasharray="3,3"/>
<line x1="1169" y1="871.5" x2="1299.2" y2="846.7" stroke="#ff0000" stroke-width="4"/><polygon points="1308.0,845.0 1298.1,852.0 1296.3,842.1" fill="#ff0000"/>
</g>
<text x="-10.5" y="799" style="font-family:'Liberation Sans','Noto Sans CJK SC',sans-serif;font-size:10px" fill="#000" textLength="69.5" lengthAdjust="spacingAndGlyphs">RSI(14) 54.0945</text>
<rect x="0" y="23" width="1647" height="1" fill="#000"/>
<rect x="0" y="626" width="1647" height="1" fill="#000"/>
<rect x="1646" y="23" width="1" height="604" fill="#000"/>
<rect x="0" y="628" width="1647" height="1" fill="#000"/>
<rect x="0" y="784" width="1647" height="1" fill="#000"/>
<rect x="1646" y="628" width="1" height="157" fill="#000"/>
<rect x="0" y="786" width="1647" height="1" fill="#000"/>
<rect x="0" y="924" width="1647" height="1" fill="#000"/>
<rect x="1646" y="786" width="1" height="139" fill="#000"/>
<rect x="1647" y="29" width="2" height="1" fill="#000"/>
<text x="1652" y="33" style="font-family:'Liberation Sans','Noto Sans CJK SC',sans-serif;font-size:10px" fill="#000" textLength="33" lengthAdjust="spacingAndGlyphs">33590.5</text>
<rect x="1647" y="62" width="2" height="1" fill="#000"/>
<text x="1652" y="66" style="font-family:'Liberation Sans','Noto Sans CJK SC',sans-serif;font-size:10px" fill="#000" textLength="33" lengthAdjust="spacingAndGlyphs">33363.0</text>
<rect x="1647" y="95" width="2" height="1" fill="#000"/>
<text x="1652" y="99" style="font-family:'Liberation Sans','Noto Sans CJK SC',sans-serif;font-size:10px" fill="#000" textLength="33" lengthAdjust="spacingAndGlyphs">33142.0</text>
<rect x="1647" y="128" width="2" height="1" fill="#000"/>
<text x="1652" y="132" style="font-family:'Liberation Sans','Noto Sans CJK SC',sans-serif;font-size:10px" fill="#000" textLength="33" lengthAdjust="spacingAndGlyphs">32914.5</text>
<rect x="1647" y="161" width="2" height="1" fill="#000"/>
<text x="1652" y="165" style="font-family:'Liberation Sans','Noto Sans CJK SC',sans-serif;font-size:10px" fill="#000" textLength="33" lengthAdjust="spacingAndGlyphs">32693.5</text>
<rect x="1647" y="194" width="2" height="1" fill="#000"/>
<text x="1652" y="198" style="font-family:'Liberation Sans','Noto Sans CJK SC',sans-serif;font-size:10px" fill="#000" textLength="33" lengthAdjust="spacingAndGlyphs">32472.5</text>
<rect x="1647" y="227" width="2" height="1" fill="#000"/>
<text x="1652" y="231" style="font-family:'Liberation Sans','Noto Sans CJK SC',sans-serif;font-size:10px" fill="#000" textLength="33" lengthAdjust="spacingAndGlyphs">32245.0</text>
<rect x="1647" y="260" width="2" height="1" fill="#000"/>
<text x="1652" y="264" style="font-family:'Liberation Sans','Noto Sans CJK SC',sans-serif;font-size:10px" fill="#000" textLength="33" lengthAdjust="spacingAndGlyphs">32024.0</text>
<rect x="1647" y="293" width="2" height="1" fill="#000"/>
<text x="1652" y="297" style="font-family:'Liberation Sans','Noto Sans CJK SC',sans-serif;font-size:10px" fill="#000" textLength="33" lengthAdjust="spacingAndGlyphs">31796.5</text>
<rect x="1647" y="326" width="2" height="1" fill="#000"/>
<text x="1652" y="330" style="font-family:'Liberation Sans','Noto Sans CJK SC',sans-serif;font-size:10px" fill="#000" textLength="33" lengthAdjust="spacingAndGlyphs">31575.5</text>
<rect x="1647" y="359" width="2" height="1" fill="#000"/>
<text x="1652" y="363" style="font-family:'Liberation Sans','Noto Sans CJK SC',sans-serif;font-size:10px" fill="#000" textLength="33" lengthAdjust="spacingAndGlyphs">31348.0</text>
<rect x="1647" y="392" width="2" height="1" fill="#000"/>
<text x="1652" y="396" style="font-family:'Liberation Sans','Noto Sans CJK SC',sans-serif;font-size:10px" fill="#000" textLength="33" lengthAdjust="spacingAndGlyphs">31127.0</text>
<rect x="1647" y="425" width="2" height="1" fill="#000"/>
<text x="1652" y="429" style="font-family:'Liberation Sans','Noto Sans CJK SC',sans-serif;font-size:10px" fill="#000" textLength="33" lengthAdjust="spacingAndGlyphs">30899.5</text>
<rect x="1647" y="458" width="2" height="1" fill="#000"/>
<text x="1652" y="462" style="font-family:'Liberation Sans','Noto Sans CJK SC',sans-serif;font-size:10px" fill="#000" textLength="33" lengthAdjust="spacingAndGlyphs">30678.5</text>
<rect x="1647" y="491" width="2" height="1" fill="#000"/>
<text x="1652" y="495" style="font-family:'Liberation Sans','Noto Sans CJK SC',sans-serif;font-size:10px" fill="#000" textLength="33" lengthAdjust="spacingAndGlyphs">30451.0</text>
<rect x="1647" y="524" width="2" height="1" fill="#000"/>
<text x="1652" y="528" style="font-family:'Liberation Sans','Noto Sans CJK SC',sans-serif;font-size:10px" fill="#000" textLength="33" lengthAdjust="spacingAndGlyphs">30230.0</text>
<rect x="1647" y="557" width="2" height="1" fill="#000"/>
<text x="1652" y="561" style="font-family:'Liberation Sans','Noto Sans CJK SC',sans-serif;font-size:10px" fill="#000" textLength="33" lengthAdjust="spacingAndGlyphs">30009.0</text>
<rect x="1647" y="590" width="2" height="1" fill="#000"/>
<text x="1652" y="594" style="font-family:'Liberation Sans','Noto Sans CJK SC',sans-serif;font-size:10px" fill="#000" textLength="33" lengthAdjust="spacingAndGlyphs">29781.5</text>
<rect x="1647" y="623" width="2" height="1" fill="#000"/>
<text x="1652" y="627" style="font-family:'Liberation Sans','Noto Sans CJK SC',sans-serif;font-size:10px" fill="#000" textLength="33" lengthAdjust="spacingAndGlyphs">29560.5</text>
<rect x="1648" y="412" width="41" height="11" fill="#ff0000"/>
<text x="1652" y="421" style="font-family:'Liberation Sans','Noto Sans CJK SC',sans-serif;font-size:10px" fill="#fff" textLength="33" lengthAdjust="spacingAndGlyphs">30950.4</text>
<rect x="1648" y="448" width="41" height="11" fill="#ff0000"/>
<text x="1652" y="457" style="font-family:'Liberation Sans','Noto Sans CJK SC',sans-serif;font-size:10px" fill="#fff" textLength="33" lengthAdjust="spacingAndGlyphs">30704.2</text>
<rect x="1648" y="484" width="41" height="11" fill="#000000"/>
<text x="1652" y="493" style="font-family:'Liberation Sans','Noto Sans CJK SC',sans-serif;font-size:10px" fill="#fff" textLength="33" lengthAdjust="spacingAndGlyphs">30468.5</text>
<rect x="1648" y="500" width="41" height="11" fill="#ffa500"/>
<text x="1652" y="509" style="font-family:'Liberation Sans','Noto Sans CJK SC',sans-serif;font-size:10px" fill="#fff" textLength="33" lengthAdjust="spacingAndGlyphs">30354.1</text>
<rect x="1648" y="534" width="41" height="11" fill="#0000ff"/>
<text x="1652" y="543" style="font-family:'Liberation Sans','Noto Sans CJK SC',sans-serif;font-size:10px" fill="#fff" textLength="33" lengthAdjust="spacingAndGlyphs">30123.7</text>
<rect x="1648" y="567" width="41" height="11" fill="#0000ff"/>
<text x="1652" y="576" style="font-family:'Liberation Sans','Noto Sans CJK SC',sans-serif;font-size:10px" fill="#fff" textLength="33" lengthAdjust="spacingAndGlyphs">29900.1</text>
<rect x="1647" y="630" width="2" height="1" fill="#000"/>
<text x="1650" y="639" style="font-family:'Liberation Sans','Noto Sans CJK SC',sans-serif;font-size:10px" fill="#000" textLength="28" lengthAdjust="spacingAndGlyphs">431.56</text>
<rect x="1647" y="691" width="2" height="1" fill="#000"/>
<text x="1650" y="695" style="font-family:'Liberation Sans','Noto Sans CJK SC',sans-serif;font-size:10px" fill="#000" textLength="17" lengthAdjust="spacingAndGlyphs">0.00</text>
<rect x="1647" y="783" width="2" height="1" fill="#000"/>
<text x="1650" y="781" style="font-family:'Liberation Sans','Noto Sans CJK SC',sans-serif;font-size:10px" fill="#000" textLength="31" lengthAdjust="spacingAndGlyphs">-652.53</text>
<rect x="1647" y="788" width="2" height="1" fill="#000"/>
<text x="1650" y="797" style="font-family:'Liberation Sans','Noto Sans CJK SC',sans-serif;font-size:10px" fill="#000" textLength="15" lengthAdjust="spacingAndGlyphs">100</text>
<text x="1650" y="819" style="font-family:'Liberation Sans','Noto Sans CJK SC',sans-serif;font-size:10px" fill="#000" textLength="9.5" lengthAdjust="spacingAndGlyphs">80</text>
<text x="1650" y="859" style="font-family:'Liberation Sans','Noto Sans CJK SC',sans-serif;font-size:10px" fill="#000" textLength="9.5" lengthAdjust="spacingAndGlyphs">50</text>
<text x="1650" y="907" style="font-family:'Liberation Sans','Noto Sans CJK SC',sans-serif;font-size:10px" fill="#000" textLength="9.5" lengthAdjust="spacingAndGlyphs">15</text>
<rect x="1647" y="923" width="2" height="1" fill="#000"/>
<text x="1650" y="921" style="font-family:'Liberation Sans','Noto Sans CJK SC',sans-serif;font-size:10px" fill="#000" textLength="5" lengthAdjust="spacingAndGlyphs">0</text>
<rect x="51" y="925" width="1" height="3" fill="#000"/>
<text x="51" y="937" style="font-family:'Liberation Sans','Noto Sans CJK SC',sans-serif;font-size:10px" fill="#000" textLength="57" lengthAdjust="spacingAndGlyphs">18 May 00:00</text>
<rect x="115" y="925" width="1" height="3" fill="#000"/>
<text x="115" y="937" style="font-family:'Liberation Sans','Noto Sans CJK SC',sans-serif;font-size:10px" fill="#000" textLength="57" lengthAdjust="spacingAndGlyphs">19 May 08:00</text>
<rect x="179" y="925" width="1" height="3" fill="#000"/>
<text x="179" y="937" style="font-family:'Liberation Sans','Noto Sans CJK SC',sans-serif;font-size:10px" fill="#000" textLength="57" lengthAdjust="spacingAndGlyphs">20 May 16:00</text>
<rect x="243" y="925" width="1" height="3" fill="#000"/>
<text x="243" y="937" style="font-family:'Liberation Sans','Noto Sans CJK SC',sans-serif;font-size:10px" fill="#000" textLength="57" lengthAdjust="spacingAndGlyphs">24 May 00:00</text>
<rect x="307" y="925" width="1" height="3" fill="#000"/>
<text x="307" y="937" style="font-family:'Liberation Sans','Noto Sans CJK SC',sans-serif;font-size:10px" fill="#000" textLength="57" lengthAdjust="spacingAndGlyphs">25 May 08:00</text>
<rect x="371" y="925" width="1" height="3" fill="#000"/>
<text x="371" y="937" style="font-family:'Liberation Sans','Noto Sans CJK SC',sans-serif;font-size:10px" fill="#000" textLength="57" lengthAdjust="spacingAndGlyphs">26 May 16:00</text>
<rect x="435" y="925" width="1" height="3" fill="#000"/>
<text x="435" y="937" style="font-family:'Liberation Sans','Noto Sans CJK SC',sans-serif;font-size:10px" fill="#000" textLength="57" lengthAdjust="spacingAndGlyphs">30 May 00:00</text>
<rect x="499" y="925" width="1" height="3" fill="#000"/>
<text x="499" y="937" style="font-family:'Liberation Sans','Noto Sans CJK SC',sans-serif;font-size:10px" fill="#000" textLength="57" lengthAdjust="spacingAndGlyphs">31 May 08:00</text>
<rect x="563" y="925" width="1" height="3" fill="#000"/>
<text x="563" y="937" style="font-family:'Liberation Sans','Noto Sans CJK SC',sans-serif;font-size:10px" fill="#000" textLength="46.5" lengthAdjust="spacingAndGlyphs">1 Jun 16:00</text>
<rect x="627" y="925" width="1" height="3" fill="#000"/>
<text x="627" y="937" style="font-family:'Liberation Sans','Noto Sans CJK SC',sans-serif;font-size:10px" fill="#000" textLength="46.5" lengthAdjust="spacingAndGlyphs">3 Jun 00:00</text>
<rect x="691" y="925" width="1" height="3" fill="#000"/>
<text x="691" y="937" style="font-family:'Liberation Sans','Noto Sans CJK SC',sans-serif;font-size:10px" fill="#000" textLength="46.5" lengthAdjust="spacingAndGlyphs">6 Jun 08:00</text>
<rect x="755" y="925" width="1" height="3" fill="#000"/>
<text x="755" y="937" style="font-family:'Liberation Sans','Noto Sans CJK SC',sans-serif;font-size:10px" fill="#000" textLength="46.5" lengthAdjust="spacingAndGlyphs">7 Jun 16:00</text>
<rect x="819" y="925" width="1" height="3" fill="#000"/>
<text x="819" y="937" style="font-family:'Liberation Sans','Noto Sans CJK SC',sans-serif;font-size:10px" fill="#000" textLength="46.5" lengthAdjust="spacingAndGlyphs">9 Jun 00:00</text>
<rect x="883" y="925" width="1" height="3" fill="#000"/>
<text x="883" y="937" style="font-family:'Liberation Sans','Noto Sans CJK SC',sans-serif;font-size:10px" fill="#000" textLength="52.5" lengthAdjust="spacingAndGlyphs">10 Jun 08:00</text>
<rect x="947" y="925" width="1" height="3" fill="#000"/>
<text x="947" y="937" style="font-family:'Liberation Sans','Noto Sans CJK SC',sans-serif;font-size:10px" fill="#000" textLength="52.5" lengthAdjust="spacingAndGlyphs">13 Jun 16:00</text>
<rect x="1011" y="925" width="1" height="3" fill="#000"/>
<text x="1011" y="937" style="font-family:'Liberation Sans','Noto Sans CJK SC',sans-serif;font-size:10px" fill="#000" textLength="52.5" lengthAdjust="spacingAndGlyphs">15 Jun 00:00</text>
<rect x="1075" y="925" width="1" height="3" fill="#000"/>
<text x="1075" y="937" style="font-family:'Liberation Sans','Noto Sans CJK SC',sans-serif;font-size:10px" fill="#000" textLength="52.5" lengthAdjust="spacingAndGlyphs">16 Jun 08:00</text>
<rect x="1139" y="925" width="1" height="3" fill="#000"/>
<text x="1139" y="937" style="font-family:'Liberation Sans','Noto Sans CJK SC',sans-serif;font-size:10px" fill="#000" textLength="52.5" lengthAdjust="spacingAndGlyphs">17 Jun 16:00</text>
<rect x="1203" y="925" width="1" height="3" fill="#000"/>
<text x="1203" y="937" style="font-family:'Liberation Sans','Noto Sans CJK SC',sans-serif;font-size:10px" fill="#000" textLength="52.5" lengthAdjust="spacingAndGlyphs">21 Jun 00:00</text>
<rect x="1267" y="925" width="1" height="3" fill="#000"/>
<text x="1267" y="937" style="font-family:'Liberation Sans','Noto Sans CJK SC',sans-serif;font-size:10px" fill="#000" textLength="52.5" lengthAdjust="spacingAndGlyphs">22 Jun 08:00</text>
<text x="-14" y="937" style="font-family:'Liberation Sans','Noto Sans CJK SC',sans-serif;font-size:10px" fill="#000" textLength="55" lengthAdjust="spacingAndGlyphs">17 May 2022</text>
</svg>
</body></html>
